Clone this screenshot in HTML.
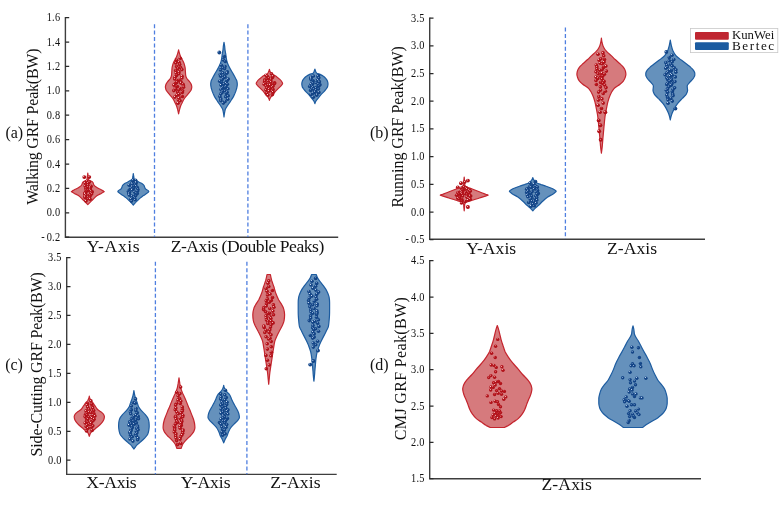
<!DOCTYPE html>
<html lang="en">
<head>
<meta charset="utf-8">
<title>GRF Peak violin plots</title>
<style>
html,body{margin:0;padding:0;background:#fff;}
body{width:784px;height:509px;overflow:hidden;}
svg{display:block;will-change:transform;}
svg text{font-family:'Liberation Serif', 'Times New Roman', Times, serif;fill:#111;}
</style>
</head>
<body>
<svg width="784" height="509" viewBox="0 0 784 509">
<defs>
<radialGradient id="gr" cx="0.4" cy="0.38" r="0.66" fx="0.36" fy="0.33">
<stop offset="0" stop-color="#ffe4e4"/><stop offset="0.1" stop-color="#eda6a9"/><stop offset="0.3" stop-color="#b8141c"/><stop offset="1" stop-color="#a80d15"/>
</radialGradient>
<radialGradient id="gb" cx="0.4" cy="0.38" r="0.66" fx="0.36" fy="0.33">
<stop offset="0" stop-color="#e6efff"/><stop offset="0.1" stop-color="#a4bce0"/><stop offset="0.3" stop-color="#15498c"/><stop offset="1" stop-color="#0f3d7e"/>
</radialGradient>
</defs>
<rect width="784" height="509" fill="#fff"/>
<path d="M65.4 17.1 V237.2 H338.2" fill="none" stroke="#3e3e3e" stroke-width="1.4"/>
<path d="M65.4 17.6h3.8M65.4 42h3.8M65.4 66.4h3.8M65.4 90.8h3.8M65.4 115.2h3.8M65.4 139.6h3.8M65.4 164h3.8M65.4 188.4h3.8M65.4 212.8h3.8M65.4 237.2h3.8" stroke="#2a2a2a" stroke-width="1.25" fill="none"/>
<text transform="translate(60.4 21.1) scale(.9 1)" text-anchor="end" font-size="11.5" letter-spacing="0.3">1.6</text>
<text transform="translate(60.4 45.5) scale(.9 1)" text-anchor="end" font-size="11.5" letter-spacing="0.3">1.4</text>
<text transform="translate(60.4 69.9) scale(.9 1)" text-anchor="end" font-size="11.5" letter-spacing="0.3">1.2</text>
<text transform="translate(60.4 94.3) scale(.9 1)" text-anchor="end" font-size="11.5" letter-spacing="0.3">1.0</text>
<text transform="translate(60.4 118.7) scale(.9 1)" text-anchor="end" font-size="11.5" letter-spacing="0.3">0.8</text>
<text transform="translate(60.4 143.1) scale(.9 1)" text-anchor="end" font-size="11.5" letter-spacing="0.3">0.6</text>
<text transform="translate(60.4 167.5) scale(.9 1)" text-anchor="end" font-size="11.5" letter-spacing="0.3">0.4</text>
<text transform="translate(60.4 191.9) scale(.9 1)" text-anchor="end" font-size="11.5" letter-spacing="0.3">0.2</text>
<text transform="translate(60.4 216.3) scale(.9 1)" text-anchor="end" font-size="11.5" letter-spacing="0.3">0.0</text>
<text transform="translate(60.4 240.7) scale(.9 1)" text-anchor="end" font-size="11.5" letter-spacing="0.3">-<tspan dx="1.9">0.2</tspan></text>
<text transform="translate(37.7 126.6) rotate(-90)" text-anchor="middle" font-size="16" textLength="156.4" lengthAdjust="spacing">Walking GRF Peak(BW)</text>
<text x="5.4" y="138.3" font-size="16">(a)</text>
<path d="M154.5 24.2V237" stroke="#4f7fe0" stroke-width="1.3" stroke-dasharray="4 2.4" fill="none"/>
<path d="M247.9 24.2V237" stroke="#4f7fe0" stroke-width="1.3" stroke-dasharray="4 2.4" fill="none"/>
<text x="113.2" y="252" text-anchor="middle" font-size="17.6" textLength="53" lengthAdjust="spacing">Y-Axis</text>
<text x="247.5" y="252" text-anchor="middle" font-size="17.6" textLength="153.6" lengthAdjust="spacing">Z-Axis (Double Peaks)</text>
<path d="M87.8 173.1C87.9 174.2 88.1 175.4 88.2 176.5C88.4 177.6 88.4 178.7 88.7 179.8C88.8 180.2 90.1 180.6 90.8 181C91.5 181.4 92.4 181.8 92.7 182.2C93.5 183.2 93.4 184.3 94.1 185.3C94.6 186.1 96 186.9 97.2 187.7C98.4 188.5 100.2 189.2 101.6 190C102.3 190.4 103.1 190.8 103.7 191.2C103.9 191.3 104.3 191.5 104.3 191.6C104.3 191.7 103.9 191.9 103.7 192C103.1 192.4 102.3 192.8 101.6 193.2C100.2 194 98.3 194.8 97.2 195.6C96.1 196.4 95.3 197.1 94.5 197.9C93.6 198.7 92.9 199.5 92.1 200.3C91.3 201.1 90.6 201.8 89.8 202.6C89.1 203.3 88.5 203.9 87.8 204.6C87.1 203.9 86.5 203.3 85.8 202.6C85 201.8 84.3 201.1 83.5 200.3C82.7 199.5 82 198.7 81.1 197.9C80.3 197.1 79.5 196.4 78.4 195.6C77.3 194.8 75.4 194 74 193.2C73.3 192.8 72.5 192.4 71.9 192C71.7 191.9 71.3 191.7 71.3 191.6C71.3 191.5 71.7 191.3 71.9 191.2C72.5 190.8 73.3 190.4 74 190C75.4 189.2 77.2 188.5 78.4 187.7C79.6 186.9 81 186.1 81.5 185.3C82.2 184.3 82.1 183.2 82.9 182.2C83.2 181.8 84.1 181.4 84.8 181C85.5 180.6 86.8 180.2 86.9 179.8C87.2 178.7 87.2 177.6 87.3 176.5C87.5 175.4 87.7 174.2 87.8 173.1Z" fill="#d67a7d" stroke="#c4252e" stroke-width="1.2" stroke-linejoin="round"/>
<circle cx="89.4" cy="177.1" r="1.8" fill="url(#gr)"/>
<circle cx="86.9" cy="181.4" r="1.8" fill="url(#gr)"/>
<circle cx="89.4" cy="182.1" r="1.8" fill="url(#gr)"/>
<circle cx="85.2" cy="183.1" r="1.8" fill="url(#gr)"/>
<circle cx="88" cy="183.4" r="1.8" fill="url(#gr)"/>
<circle cx="86.2" cy="184.7" r="1.8" fill="url(#gr)"/>
<circle cx="87.8" cy="185.4" r="1.8" fill="url(#gr)"/>
<circle cx="85.2" cy="185.9" r="1.8" fill="url(#gr)"/>
<circle cx="91.1" cy="186.4" r="1.8" fill="url(#gr)"/>
<circle cx="87.6" cy="187.3" r="1.8" fill="url(#gr)"/>
<circle cx="90.1" cy="187.4" r="1.8" fill="url(#gr)"/>
<circle cx="85.9" cy="188.4" r="1.8" fill="url(#gr)"/>
<circle cx="89.9" cy="188.5" r="1.8" fill="url(#gr)"/>
<circle cx="86.5" cy="188.8" r="1.8" fill="url(#gr)"/>
<circle cx="90.3" cy="189.4" r="1.8" fill="url(#gr)"/>
<circle cx="86.4" cy="189.7" r="1.8" fill="url(#gr)"/>
<circle cx="90.3" cy="190.1" r="1.8" fill="url(#gr)"/>
<circle cx="87.6" cy="190.5" r="1.8" fill="url(#gr)"/>
<circle cx="90.8" cy="191.1" r="1.8" fill="url(#gr)"/>
<circle cx="86.5" cy="191.3" r="1.8" fill="url(#gr)"/>
<circle cx="92.2" cy="191.8" r="1.8" fill="url(#gr)"/>
<circle cx="85.7" cy="191.8" r="1.8" fill="url(#gr)"/>
<circle cx="91.5" cy="192.4" r="1.8" fill="url(#gr)"/>
<circle cx="85.4" cy="192.8" r="1.8" fill="url(#gr)"/>
<circle cx="91.1" cy="193.1" r="1.8" fill="url(#gr)"/>
<circle cx="84.8" cy="193.3" r="1.8" fill="url(#gr)"/>
<circle cx="91.6" cy="193.9" r="1.8" fill="url(#gr)"/>
<circle cx="85" cy="194.2" r="1.8" fill="url(#gr)"/>
<circle cx="89.2" cy="194.4" r="1.8" fill="url(#gr)"/>
<circle cx="85.8" cy="195.3" r="1.8" fill="url(#gr)"/>
<circle cx="90.2" cy="195.5" r="1.8" fill="url(#gr)"/>
<circle cx="85.1" cy="196.3" r="1.8" fill="url(#gr)"/>
<circle cx="89.7" cy="196.7" r="1.8" fill="url(#gr)"/>
<circle cx="85" cy="197.4" r="1.8" fill="url(#gr)"/>
<circle cx="89.4" cy="198" r="1.8" fill="url(#gr)"/>
<circle cx="87.6" cy="198.7" r="1.8" fill="url(#gr)"/>
<circle cx="90.1" cy="199.2" r="1.8" fill="url(#gr)"/>
<circle cx="86" cy="201" r="1.8" fill="url(#gr)"/>
<path d="M133.3 173.5C133.4 174.5 133.6 175.5 133.8 176.5C133.9 177.3 133.9 178.2 134.2 179C134.4 179.5 135.5 180.1 136.3 180.6C137.1 181.1 138.2 181.7 139.2 182.2C140.2 182.7 141.5 183.2 142.2 183.7C142.9 184.2 143.6 184.8 143.9 185.3C144.3 186 144.4 186.6 144.7 187.3C144.9 187.8 145.1 188.4 145.5 188.9C145.9 189.4 147.3 189.9 147.9 190.4C148.2 190.7 148.5 191 148.7 191.3C148.8 191.4 148.9 191.5 148.9 191.6C148.9 191.7 148.6 191.9 148.5 192C148.1 192.4 147.4 192.8 146.9 193.2C145.8 194 144.6 194.8 143.5 195.6C142.4 196.4 141.3 197.1 140.4 197.9C139.4 198.7 138.6 199.5 137.8 200.3C137 201.1 136.2 201.8 135.5 202.6C134.7 203.4 134 204.2 133.3 205C132.6 204.2 131.9 203.4 131.1 202.6C130.4 201.8 129.6 201.1 128.8 200.3C128 199.5 127.2 198.7 126.2 197.9C125.3 197.1 124.2 196.4 123.1 195.6C122 194.8 120.8 194 119.7 193.2C119.2 192.8 118.5 192.4 118.1 192C118 191.9 117.7 191.7 117.7 191.6C117.7 191.5 117.8 191.4 117.9 191.3C118.1 191 118.4 190.7 118.7 190.4C119.3 189.9 120.7 189.4 121.1 188.9C121.5 188.4 121.7 187.8 121.9 187.3C122.2 186.6 122.3 186 122.7 185.3C123 184.8 123.7 184.2 124.4 183.7C125.1 183.2 126.4 182.7 127.4 182.2C128.4 181.7 129.5 181.1 130.3 180.6C131.1 180.1 132.2 179.5 132.4 179C132.7 178.2 132.7 177.3 132.9 176.5C133 175.5 133.2 174.5 133.3 173.5Z" fill="#6591bc" stroke="#1d5ca0" stroke-width="1.2" stroke-linejoin="round"/>
<circle cx="135.6" cy="180.2" r="1.8" fill="url(#gb)"/>
<circle cx="133" cy="180.4" r="1.8" fill="url(#gb)"/>
<circle cx="135.9" cy="182.3" r="1.8" fill="url(#gb)"/>
<circle cx="131.9" cy="182.9" r="1.8" fill="url(#gb)"/>
<circle cx="135.9" cy="183.5" r="1.8" fill="url(#gb)"/>
<circle cx="132.4" cy="184.1" r="1.8" fill="url(#gb)"/>
<circle cx="135.2" cy="184.6" r="1.8" fill="url(#gb)"/>
<circle cx="129.2" cy="185.3" r="1.8" fill="url(#gb)"/>
<circle cx="135.9" cy="185.9" r="1.8" fill="url(#gb)"/>
<circle cx="131.8" cy="186.1" r="1.8" fill="url(#gb)"/>
<circle cx="133.5" cy="186.4" r="1.8" fill="url(#gb)"/>
<circle cx="131.6" cy="187.2" r="1.8" fill="url(#gb)"/>
<circle cx="137.3" cy="187.6" r="1.8" fill="url(#gb)"/>
<circle cx="130.5" cy="188.2" r="1.8" fill="url(#gb)"/>
<circle cx="133.5" cy="188.5" r="1.8" fill="url(#gb)"/>
<circle cx="132.4" cy="189" r="1.8" fill="url(#gb)"/>
<circle cx="137.9" cy="189.5" r="1.8" fill="url(#gb)"/>
<circle cx="132.1" cy="190" r="1.8" fill="url(#gb)"/>
<circle cx="137.4" cy="190.5" r="1.8" fill="url(#gb)"/>
<circle cx="128.8" cy="190.9" r="1.8" fill="url(#gb)"/>
<circle cx="137.4" cy="191.3" r="1.8" fill="url(#gb)"/>
<circle cx="128.4" cy="191.5" r="1.8" fill="url(#gb)"/>
<circle cx="134.4" cy="192.1" r="1.8" fill="url(#gb)"/>
<circle cx="129.6" cy="192.5" r="1.8" fill="url(#gb)"/>
<circle cx="136.2" cy="192.7" r="1.8" fill="url(#gb)"/>
<circle cx="128.9" cy="193.2" r="1.8" fill="url(#gb)"/>
<circle cx="137.3" cy="193.6" r="1.8" fill="url(#gb)"/>
<circle cx="129.2" cy="194" r="1.8" fill="url(#gb)"/>
<circle cx="135.6" cy="194.8" r="1.8" fill="url(#gb)"/>
<circle cx="129.3" cy="195.1" r="1.8" fill="url(#gb)"/>
<circle cx="135.6" cy="195.7" r="1.8" fill="url(#gb)"/>
<circle cx="131.7" cy="196" r="1.8" fill="url(#gb)"/>
<circle cx="134.2" cy="196.9" r="1.8" fill="url(#gb)"/>
<circle cx="132.1" cy="197.7" r="1.8" fill="url(#gb)"/>
<circle cx="134.6" cy="198.4" r="1.8" fill="url(#gb)"/>
<circle cx="130.9" cy="199.3" r="1.8" fill="url(#gb)"/>
<circle cx="135.1" cy="199.8" r="1.8" fill="url(#gb)"/>
<circle cx="131.5" cy="201.1" r="1.8" fill="url(#gb)"/>
<path d="M178.6 49.9C178.8 51.1 179.2 52.2 179.5 53.4C179.8 54.5 180.1 55.5 180.6 56.6C181 57.6 181.8 58.7 182.3 59.7C183 61 183.7 62.3 184.1 63.6C184.5 64.9 184.9 66.3 185.1 67.6C185.3 68.9 185.3 70.2 185.4 71.5C185.5 72.8 185.5 74.1 185.7 75.4C185.8 76.4 186.2 77.3 186.7 78.3C187.2 79.3 188.6 80.4 189.4 81.4C190.1 82.3 190.9 83.3 191.2 84.2C191.5 85.1 191.8 86.1 191.8 87C191.8 87.9 191.5 88.9 191.2 89.8C190.9 90.8 189.8 91.9 189 92.9C188.2 94 187.2 95 186.3 96.1C185.5 97.1 184.5 98.2 183.9 99.2C183.3 100.3 182.8 101.3 182.3 102.4C181.8 103.4 181.2 104.5 180.8 105.5C180.3 106.8 179.9 108.1 179.6 109.4C179.2 110.9 178.9 112.3 178.6 113.8C178.3 112.3 178 110.9 177.6 109.4C177.3 108.1 176.9 106.8 176.4 105.5C176 104.5 175.4 103.4 174.9 102.4C174.4 101.3 173.9 100.3 173.3 99.2C172.7 98.2 171.7 97.1 170.9 96.1C170 95 169 94 168.2 92.9C167.4 91.9 166.3 90.8 166 89.8C165.7 88.9 165.4 87.9 165.4 87C165.4 86.1 165.7 85.1 166 84.2C166.3 83.3 167.1 82.3 167.8 81.4C168.6 80.4 170 79.3 170.5 78.3C171 77.3 171.4 76.4 171.5 75.4C171.7 74.1 171.7 72.8 171.8 71.5C171.9 70.2 171.9 68.9 172.1 67.6C172.3 66.3 172.7 64.9 173.1 63.6C173.5 62.3 174.2 61 174.9 59.7C175.4 58.7 176.2 57.6 176.6 56.6C177.1 55.5 177.4 54.5 177.7 53.4C178 52.2 178.4 51.1 178.6 49.9Z" fill="#d67a7d" stroke="#c4252e" stroke-width="1.2" stroke-linejoin="round"/>
<circle cx="180.3" cy="58.3" r="1.8" fill="url(#gr)"/>
<circle cx="176.6" cy="60.4" r="1.8" fill="url(#gr)"/>
<circle cx="179" cy="62.3" r="1.8" fill="url(#gr)"/>
<circle cx="175.7" cy="62.9" r="1.8" fill="url(#gr)"/>
<circle cx="179.7" cy="64.5" r="1.8" fill="url(#gr)"/>
<circle cx="176.6" cy="66.6" r="1.8" fill="url(#gr)"/>
<circle cx="180.6" cy="67.6" r="1.8" fill="url(#gr)"/>
<circle cx="177.8" cy="68.5" r="1.8" fill="url(#gr)"/>
<circle cx="181.9" cy="69.6" r="1.8" fill="url(#gr)"/>
<circle cx="175.7" cy="70.6" r="1.8" fill="url(#gr)"/>
<circle cx="179" cy="71.9" r="1.8" fill="url(#gr)"/>
<circle cx="176.2" cy="73.1" r="1.8" fill="url(#gr)"/>
<circle cx="178.8" cy="73.7" r="1.8" fill="url(#gr)"/>
<circle cx="176.5" cy="75.4" r="1.8" fill="url(#gr)"/>
<circle cx="182" cy="76.3" r="1.8" fill="url(#gr)"/>
<circle cx="175" cy="77.3" r="1.8" fill="url(#gr)"/>
<circle cx="181.9" cy="78" r="1.8" fill="url(#gr)"/>
<circle cx="174.7" cy="79" r="1.8" fill="url(#gr)"/>
<circle cx="179.3" cy="80.2" r="1.8" fill="url(#gr)"/>
<circle cx="177.3" cy="80.5" r="1.8" fill="url(#gr)"/>
<circle cx="181" cy="81.9" r="1.8" fill="url(#gr)"/>
<circle cx="176.8" cy="82.4" r="1.8" fill="url(#gr)"/>
<circle cx="180.8" cy="83" r="1.8" fill="url(#gr)"/>
<circle cx="175.4" cy="83.6" r="1.8" fill="url(#gr)"/>
<circle cx="183.1" cy="84.4" r="1.8" fill="url(#gr)"/>
<circle cx="173.9" cy="85.1" r="1.8" fill="url(#gr)"/>
<circle cx="183.5" cy="85.9" r="1.8" fill="url(#gr)"/>
<circle cx="177.4" cy="86.5" r="1.8" fill="url(#gr)"/>
<circle cx="183.5" cy="87.2" r="1.8" fill="url(#gr)"/>
<circle cx="175.4" cy="87.9" r="1.8" fill="url(#gr)"/>
<circle cx="180" cy="88.5" r="1.8" fill="url(#gr)"/>
<circle cx="175.4" cy="89.2" r="1.8" fill="url(#gr)"/>
<circle cx="179.1" cy="89.5" r="1.8" fill="url(#gr)"/>
<circle cx="173.8" cy="90.6" r="1.8" fill="url(#gr)"/>
<circle cx="182.6" cy="90.8" r="1.8" fill="url(#gr)"/>
<circle cx="177.6" cy="91.7" r="1.8" fill="url(#gr)"/>
<circle cx="182.3" cy="92.4" r="1.8" fill="url(#gr)"/>
<circle cx="178.2" cy="93.7" r="1.8" fill="url(#gr)"/>
<circle cx="179" cy="94.3" r="1.8" fill="url(#gr)"/>
<circle cx="176.9" cy="95.3" r="1.8" fill="url(#gr)"/>
<circle cx="182.4" cy="96.5" r="1.8" fill="url(#gr)"/>
<circle cx="174.9" cy="97.1" r="1.8" fill="url(#gr)"/>
<circle cx="179.1" cy="98.1" r="1.8" fill="url(#gr)"/>
<circle cx="178.4" cy="99.8" r="1.8" fill="url(#gr)"/>
<circle cx="180.1" cy="100.7" r="1.8" fill="url(#gr)"/>
<circle cx="178" cy="103.2" r="1.8" fill="url(#gr)"/>
<path d="M224 42.3C224.2 43.5 224.4 44.7 224.6 45.9C224.8 47.2 224.8 48.5 225 49.8C225.2 51.1 225.5 52.4 225.7 53.7C225.9 55 226 56.3 226.2 57.6C226.4 58.9 226.6 60.3 227 61.6C227.3 62.9 227.9 64.2 228.5 65.5C229.1 66.8 229.8 68.1 230.5 69.4C231.2 70.7 232.1 72.1 232.9 73.4C233.8 74.9 234.6 76.5 235.4 78C235.9 79 236.7 80.1 236.9 81.1C237.1 82.2 237.3 83.2 237.3 84.3C237.3 85.3 237.1 86.4 236.9 87.4C236.7 88.5 236.3 89.5 236 90.6C235.7 91.6 235.2 92.7 234.8 93.7C234.3 94.8 233.9 95.8 233.3 96.9C232.7 97.9 232 99 231.3 100C230.6 101.1 229.9 102.1 229.2 103.2C228.5 104.2 227.7 105.3 227.1 106.3C226.5 107.3 225.6 108.4 225.3 109.4C225 110.5 224.8 111.5 224.6 112.6C224.4 114 224.1 115.5 224 116.9C223.9 115.5 223.6 114 223.4 112.6C223.2 111.5 223 110.5 222.7 109.4C222.4 108.4 221.5 107.3 220.9 106.3C220.3 105.3 219.5 104.2 218.8 103.2C218.1 102.1 217.4 101.1 216.7 100C216 99 215.3 97.9 214.7 96.9C214.1 95.8 213.7 94.8 213.2 93.7C212.8 92.7 212.3 91.6 212 90.6C211.7 89.5 211.3 88.5 211.1 87.4C210.9 86.4 210.7 85.3 210.7 84.3C210.7 83.2 210.9 82.2 211.1 81.1C211.3 80.1 212.1 79 212.6 78C213.4 76.5 214.2 74.9 215.1 73.4C215.9 72.1 216.8 70.7 217.5 69.4C218.2 68.1 218.9 66.8 219.5 65.5C220.1 64.2 220.7 62.9 221 61.6C221.4 60.3 221.6 58.9 221.8 57.6C222 56.3 222.1 55 222.3 53.7C222.5 52.4 222.8 51.1 223 49.8C223.2 48.5 223.2 47.2 223.4 45.9C223.6 44.7 223.8 43.5 224 42.3Z" fill="#6591bc" stroke="#1d5ca0" stroke-width="1.2" stroke-linejoin="round"/>
<circle cx="224.4" cy="56.5" r="1.8" fill="url(#gb)"/>
<circle cx="223.4" cy="59.9" r="1.8" fill="url(#gb)"/>
<circle cx="225.3" cy="61.5" r="1.8" fill="url(#gb)"/>
<circle cx="221.4" cy="65.2" r="1.8" fill="url(#gb)"/>
<circle cx="225" cy="66.6" r="1.8" fill="url(#gb)"/>
<circle cx="222.8" cy="67.7" r="1.8" fill="url(#gb)"/>
<circle cx="224.6" cy="68.6" r="1.8" fill="url(#gb)"/>
<circle cx="220.5" cy="69.9" r="1.8" fill="url(#gb)"/>
<circle cx="227.3" cy="71.8" r="1.8" fill="url(#gb)"/>
<circle cx="222.9" cy="72.8" r="1.8" fill="url(#gb)"/>
<circle cx="226.8" cy="73.3" r="1.8" fill="url(#gb)"/>
<circle cx="220.2" cy="74.6" r="1.8" fill="url(#gb)"/>
<circle cx="224.6" cy="75.7" r="1.8" fill="url(#gb)"/>
<circle cx="220.7" cy="76.3" r="1.8" fill="url(#gb)"/>
<circle cx="225.1" cy="77.1" r="1.8" fill="url(#gb)"/>
<circle cx="223.3" cy="77.9" r="1.8" fill="url(#gb)"/>
<circle cx="228.2" cy="79" r="1.8" fill="url(#gb)"/>
<circle cx="222.2" cy="79.5" r="1.8" fill="url(#gb)"/>
<circle cx="227.1" cy="80.5" r="1.8" fill="url(#gb)"/>
<circle cx="219.7" cy="81.2" r="1.8" fill="url(#gb)"/>
<circle cx="226.4" cy="81.7" r="1.8" fill="url(#gb)"/>
<circle cx="221.5" cy="82.5" r="1.8" fill="url(#gb)"/>
<circle cx="225.9" cy="82.9" r="1.8" fill="url(#gb)"/>
<circle cx="223.6" cy="84.1" r="1.8" fill="url(#gb)"/>
<circle cx="227.4" cy="84.2" r="1.8" fill="url(#gb)"/>
<circle cx="221" cy="85.1" r="1.8" fill="url(#gb)"/>
<circle cx="226.1" cy="86" r="1.8" fill="url(#gb)"/>
<circle cx="222.7" cy="87.1" r="1.8" fill="url(#gb)"/>
<circle cx="225.4" cy="87.4" r="1.8" fill="url(#gb)"/>
<circle cx="222.3" cy="88.3" r="1.8" fill="url(#gb)"/>
<circle cx="227.9" cy="88.8" r="1.8" fill="url(#gb)"/>
<circle cx="221" cy="89.5" r="1.8" fill="url(#gb)"/>
<circle cx="224.8" cy="90.8" r="1.8" fill="url(#gb)"/>
<circle cx="222.5" cy="90.9" r="1.8" fill="url(#gb)"/>
<circle cx="227.1" cy="92.2" r="1.8" fill="url(#gb)"/>
<circle cx="222.1" cy="92.6" r="1.8" fill="url(#gb)"/>
<circle cx="226.4" cy="93.4" r="1.8" fill="url(#gb)"/>
<circle cx="220.6" cy="94.1" r="1.8" fill="url(#gb)"/>
<circle cx="228.2" cy="95.8" r="1.8" fill="url(#gb)"/>
<circle cx="219.9" cy="96.5" r="1.8" fill="url(#gb)"/>
<circle cx="225.6" cy="96.8" r="1.8" fill="url(#gb)"/>
<circle cx="220.8" cy="98.8" r="1.8" fill="url(#gb)"/>
<circle cx="227.7" cy="99.2" r="1.8" fill="url(#gb)"/>
<circle cx="220.8" cy="100.6" r="1.8" fill="url(#gb)"/>
<circle cx="225" cy="101.5" r="1.8" fill="url(#gb)"/>
<circle cx="223.3" cy="103.1" r="1.8" fill="url(#gb)"/>
<path d="M269.4 69.4C269.6 70.3 270 71.3 270.4 72.2C270.7 72.8 270.9 73.3 271.4 73.9C271.9 74.4 273.9 75 274.8 75.5C275.8 76.1 276.5 76.6 277.2 77.2C278.3 78 279.3 78.9 280.1 79.7C280.8 80.4 281.4 81 281.8 81.7C282.1 82.3 282.6 82.8 282.6 83.4C282.6 84.1 281.9 84.7 281.4 85.4C280.8 86.2 279.7 87.1 278.9 87.9C278.1 88.7 277.2 89.6 276.4 90.4C275.6 91.2 274.9 92.1 274.3 92.9C273.7 93.7 273.4 94.5 272.7 95.3C272.2 95.9 271.3 96.4 270.9 97C270.2 98.1 269.5 99.2 269.4 100.3C269.3 99.2 268.6 98.1 267.9 97C267.5 96.4 266.6 95.9 266.1 95.3C265.4 94.5 265.1 93.7 264.5 92.9C263.9 92.1 263.2 91.2 262.4 90.4C261.6 89.6 260.7 88.7 259.9 87.9C259.1 87.1 258 86.2 257.4 85.4C256.9 84.7 256.2 84.1 256.2 83.4C256.2 82.8 256.7 82.3 257 81.7C257.4 81 258 80.4 258.7 79.7C259.5 78.9 260.5 78 261.6 77.2C262.3 76.6 263 76.1 264 75.5C264.9 75 266.9 74.4 267.4 73.9C267.9 73.3 268.1 72.8 268.4 72.2C268.8 71.3 269.2 70.3 269.4 69.4Z" fill="#d67a7d" stroke="#c4252e" stroke-width="1.2" stroke-linejoin="round"/>
<circle cx="271.5" cy="73.8" r="1.8" fill="url(#gr)"/>
<circle cx="266" cy="75.3" r="1.8" fill="url(#gr)"/>
<circle cx="273" cy="76" r="1.8" fill="url(#gr)"/>
<circle cx="267.3" cy="76.2" r="1.8" fill="url(#gr)"/>
<circle cx="272.5" cy="77.5" r="1.8" fill="url(#gr)"/>
<circle cx="268.6" cy="78" r="1.8" fill="url(#gr)"/>
<circle cx="270.9" cy="78.3" r="1.8" fill="url(#gr)"/>
<circle cx="266.4" cy="78.9" r="1.8" fill="url(#gr)"/>
<circle cx="270.8" cy="79.1" r="1.8" fill="url(#gr)"/>
<circle cx="264.8" cy="79.7" r="1.8" fill="url(#gr)"/>
<circle cx="270.6" cy="80.4" r="1.8" fill="url(#gr)"/>
<circle cx="268.3" cy="80.9" r="1.8" fill="url(#gr)"/>
<circle cx="270.4" cy="81.2" r="1.8" fill="url(#gr)"/>
<circle cx="264.7" cy="81.4" r="1.8" fill="url(#gr)"/>
<circle cx="270.9" cy="81.9" r="1.8" fill="url(#gr)"/>
<circle cx="264.6" cy="82.7" r="1.8" fill="url(#gr)"/>
<circle cx="274.6" cy="82.8" r="1.8" fill="url(#gr)"/>
<circle cx="265.4" cy="83.3" r="1.8" fill="url(#gr)"/>
<circle cx="274.5" cy="83.6" r="1.8" fill="url(#gr)"/>
<circle cx="264.2" cy="84.2" r="1.8" fill="url(#gr)"/>
<circle cx="271.4" cy="84.7" r="1.8" fill="url(#gr)"/>
<circle cx="268.2" cy="84.9" r="1.8" fill="url(#gr)"/>
<circle cx="270" cy="85.2" r="1.8" fill="url(#gr)"/>
<circle cx="266" cy="85.7" r="1.8" fill="url(#gr)"/>
<circle cx="273.1" cy="86" r="1.8" fill="url(#gr)"/>
<circle cx="267.5" cy="86.7" r="1.8" fill="url(#gr)"/>
<circle cx="272" cy="87.4" r="1.8" fill="url(#gr)"/>
<circle cx="266.8" cy="87.7" r="1.8" fill="url(#gr)"/>
<circle cx="269.9" cy="88.4" r="1.8" fill="url(#gr)"/>
<circle cx="269.2" cy="89.1" r="1.8" fill="url(#gr)"/>
<circle cx="273.1" cy="89.6" r="1.8" fill="url(#gr)"/>
<circle cx="265.9" cy="89.8" r="1.8" fill="url(#gr)"/>
<circle cx="272" cy="90.7" r="1.8" fill="url(#gr)"/>
<circle cx="269.1" cy="91.1" r="1.8" fill="url(#gr)"/>
<circle cx="273" cy="92" r="1.8" fill="url(#gr)"/>
<circle cx="266.6" cy="92.9" r="1.8" fill="url(#gr)"/>
<circle cx="272.4" cy="94.6" r="1.8" fill="url(#gr)"/>
<circle cx="268" cy="95.1" r="1.8" fill="url(#gr)"/>
<path d="M314.9 69.2C315.1 70.1 315.5 70.9 315.9 71.8C316.1 72.2 316.2 72.7 316.6 73.1C317 73.5 319.2 74 320.1 74.4C321.3 75 322.3 75.5 323.1 76.1C324.1 76.8 325.1 77.6 325.7 78.3C326.4 79.1 327 80 327.3 80.8C327.7 81.8 328 82.9 328 83.9C328 84.8 327.8 85.6 327.6 86.5C327.4 87.4 326.6 88.2 326 89.1C325.4 89.9 324.7 90.8 324 91.6C323.2 92.5 322.2 93.3 321.4 94.2C320.6 95.1 319.9 95.9 319.2 96.8C318.5 97.7 317.9 98.5 317.2 99.4C316.8 100 316.2 100.5 315.9 101.1C315.4 102 315 102.8 314.9 103.7C314.8 102.8 314.4 102 313.9 101.1C313.6 100.5 313 100 312.6 99.4C311.9 98.5 311.3 97.7 310.6 96.8C309.9 95.9 309.2 95.1 308.4 94.2C307.6 93.3 306.6 92.5 305.8 91.6C305.1 90.8 304.4 89.9 303.8 89.1C303.2 88.2 302.4 87.4 302.2 86.5C302 85.6 301.8 84.8 301.8 83.9C301.8 82.9 302.1 81.8 302.5 80.8C302.8 80 303.4 79.1 304.1 78.3C304.7 77.6 305.7 76.8 306.7 76.1C307.5 75.5 308.5 75 309.7 74.4C310.6 74 312.8 73.5 313.2 73.1C313.6 72.7 313.7 72.2 313.9 71.8C314.3 70.9 314.7 70.1 314.9 69.2Z" fill="#6591bc" stroke="#1d5ca0" stroke-width="1.2" stroke-linejoin="round"/>
<circle cx="318.4" cy="75.5" r="1.8" fill="url(#gb)"/>
<circle cx="313.4" cy="76" r="1.8" fill="url(#gb)"/>
<circle cx="318.1" cy="76.4" r="1.8" fill="url(#gb)"/>
<circle cx="311.1" cy="77.3" r="1.8" fill="url(#gb)"/>
<circle cx="318.8" cy="77.8" r="1.8" fill="url(#gb)"/>
<circle cx="310.8" cy="78.3" r="1.8" fill="url(#gb)"/>
<circle cx="317.4" cy="79.1" r="1.8" fill="url(#gb)"/>
<circle cx="311.1" cy="79.5" r="1.8" fill="url(#gb)"/>
<circle cx="318.1" cy="79.9" r="1.8" fill="url(#gb)"/>
<circle cx="313.1" cy="80.7" r="1.8" fill="url(#gb)"/>
<circle cx="318.8" cy="81.2" r="1.8" fill="url(#gb)"/>
<circle cx="312.7" cy="81.7" r="1.8" fill="url(#gb)"/>
<circle cx="319.4" cy="81.8" r="1.8" fill="url(#gb)"/>
<circle cx="312.1" cy="82.6" r="1.8" fill="url(#gb)"/>
<circle cx="316.4" cy="82.8" r="1.8" fill="url(#gb)"/>
<circle cx="312.9" cy="83.5" r="1.8" fill="url(#gb)"/>
<circle cx="318.4" cy="84.1" r="1.8" fill="url(#gb)"/>
<circle cx="311.1" cy="84.3" r="1.8" fill="url(#gb)"/>
<circle cx="320" cy="84.8" r="1.8" fill="url(#gb)"/>
<circle cx="311.7" cy="85.6" r="1.8" fill="url(#gb)"/>
<circle cx="318.9" cy="85.9" r="1.8" fill="url(#gb)"/>
<circle cx="309.7" cy="86.5" r="1.8" fill="url(#gb)"/>
<circle cx="317.3" cy="86.6" r="1.8" fill="url(#gb)"/>
<circle cx="312.9" cy="87.4" r="1.8" fill="url(#gb)"/>
<circle cx="315.7" cy="87.9" r="1.8" fill="url(#gb)"/>
<circle cx="311.9" cy="88.5" r="1.8" fill="url(#gb)"/>
<circle cx="318.5" cy="88.7" r="1.8" fill="url(#gb)"/>
<circle cx="313.6" cy="89.3" r="1.8" fill="url(#gb)"/>
<circle cx="315.9" cy="90" r="1.8" fill="url(#gb)"/>
<circle cx="310.6" cy="90.4" r="1.8" fill="url(#gb)"/>
<circle cx="315" cy="91.3" r="1.8" fill="url(#gb)"/>
<circle cx="314.7" cy="92" r="1.8" fill="url(#gb)"/>
<circle cx="318.9" cy="92.4" r="1.8" fill="url(#gb)"/>
<circle cx="313.3" cy="93.3" r="1.8" fill="url(#gb)"/>
<circle cx="316.8" cy="93.9" r="1.8" fill="url(#gb)"/>
<circle cx="311" cy="94.5" r="1.8" fill="url(#gb)"/>
<circle cx="316.7" cy="95.3" r="1.8" fill="url(#gb)"/>
<circle cx="313.3" cy="97.2" r="1.8" fill="url(#gb)"/>
<circle cx="84.3" cy="177.1" r="1.95" fill="url(#gr)"/>
<circle cx="467.9" cy="180.6" r="1.95" fill="url(#gr)"/>
<circle cx="461" cy="183.2" r="1.95" fill="url(#gr)"/>
<circle cx="457.8" cy="187.4" r="1.95" fill="url(#gr)"/>
<circle cx="467.9" cy="207" r="1.95" fill="url(#gr)"/>
<circle cx="219.3" cy="52.5" r="1.9" fill="url(#gb)"/>
<path d="M429.7 17.6 V239.2 H705" fill="none" stroke="#3e3e3e" stroke-width="1.4"/>
<path d="M429.7 18.1h3.8M429.7 45.8h3.8M429.7 73.5h3.8M429.7 101.2h3.8M429.7 128.9h3.8M429.7 156.6h3.8M429.7 184.3h3.8M429.7 212h3.8M429.7 239.7h3.8" stroke="#2a2a2a" stroke-width="1.25" fill="none"/>
<text transform="translate(424.7 21.6) scale(.9 1)" text-anchor="end" font-size="11.5" letter-spacing="0.3">3.5</text>
<text transform="translate(424.7 49.3) scale(.9 1)" text-anchor="end" font-size="11.5" letter-spacing="0.3">3.0</text>
<text transform="translate(424.7 77) scale(.9 1)" text-anchor="end" font-size="11.5" letter-spacing="0.3">2.5</text>
<text transform="translate(424.7 104.7) scale(.9 1)" text-anchor="end" font-size="11.5" letter-spacing="0.3">2.0</text>
<text transform="translate(424.7 132.4) scale(.9 1)" text-anchor="end" font-size="11.5" letter-spacing="0.3">1.5</text>
<text transform="translate(424.7 160.1) scale(.9 1)" text-anchor="end" font-size="11.5" letter-spacing="0.3">1.0</text>
<text transform="translate(424.7 187.8) scale(.9 1)" text-anchor="end" font-size="11.5" letter-spacing="0.3">0.5</text>
<text transform="translate(424.7 215.5) scale(.9 1)" text-anchor="end" font-size="11.5" letter-spacing="0.3">0.0</text>
<text transform="translate(424.7 243.2) scale(.9 1)" text-anchor="end" font-size="11.5" letter-spacing="0.3">-<tspan dx="1.9">0.5</tspan></text>
<text transform="translate(402.9 126.9) rotate(-90)" text-anchor="middle" font-size="16" textLength="161.4" lengthAdjust="spacing">Running GRF Peak(BW)</text>
<text x="370" y="138.3" font-size="16">(b)</text>
<path d="M565.4 27.5V239" stroke="#4f7fe0" stroke-width="1.3" stroke-dasharray="4 2.4" fill="none"/>
<text x="491.2" y="253.7" text-anchor="middle" font-size="17.6" textLength="50" lengthAdjust="spacing">Y-Axis</text>
<text x="632" y="254" text-anchor="middle" font-size="17.6" textLength="50" lengthAdjust="spacing">Z-Axis</text>
<path d="M464.2 177.1C464.3 178.4 464.5 179.7 464.6 181C464.6 182.3 464.6 183.7 464.8 185C464.9 185.6 465.5 186.1 466.2 186.7C467.1 187.5 470.2 188.2 472.2 189C474.8 190 477.4 191 479.9 192C482 192.8 483.9 193.7 486.2 194.5C486.8 194.7 488.2 195 488.2 195.2C488.2 195.4 486.9 195.7 486.2 195.9C484.1 196.6 481.7 197.3 479.5 198C477.4 198.7 475.4 199.3 473.3 200C470.9 200.8 467.2 201.5 466.2 202.3C465.5 202.9 464.9 203.4 464.8 204C464.6 205 464.6 206 464.6 207C464.4 208.3 464.3 209.5 464.2 210.8C464.1 209.5 464 208.3 463.8 207C463.8 206 463.8 205 463.6 204C463.5 203.4 462.9 202.9 462.2 202.3C461.2 201.5 457.5 200.8 455.1 200C453 199.3 451 198.7 448.9 198C446.7 197.3 444.3 196.6 442.2 195.9C441.5 195.7 440.2 195.4 440.2 195.2C440.2 195 441.6 194.7 442.2 194.5C444.5 193.7 446.4 192.8 448.5 192C451 191 453.6 190 456.2 189C458.2 188.2 461.3 187.5 462.2 186.7C462.9 186.1 463.5 185.6 463.6 185C463.8 183.7 463.8 182.3 463.8 181C463.9 179.7 464.1 178.4 464.2 177.1Z" fill="#d67a7d" stroke="#c4252e" stroke-width="1.2" stroke-linejoin="round"/>
<circle cx="464.8" cy="182.1" r="1.8" fill="url(#gr)"/>
<circle cx="463.7" cy="186.9" r="1.8" fill="url(#gr)"/>
<circle cx="466.2" cy="187.9" r="1.8" fill="url(#gr)"/>
<circle cx="461.4" cy="188.3" r="1.8" fill="url(#gr)"/>
<circle cx="466.9" cy="188.9" r="1.8" fill="url(#gr)"/>
<circle cx="463.4" cy="189.5" r="1.8" fill="url(#gr)"/>
<circle cx="469.3" cy="190.1" r="1.8" fill="url(#gr)"/>
<circle cx="462.4" cy="190.4" r="1.8" fill="url(#gr)"/>
<circle cx="470.4" cy="191" r="1.8" fill="url(#gr)"/>
<circle cx="461" cy="191.3" r="1.8" fill="url(#gr)"/>
<circle cx="464.8" cy="191.8" r="1.8" fill="url(#gr)"/>
<circle cx="461.6" cy="192.1" r="1.8" fill="url(#gr)"/>
<circle cx="465.5" cy="192.2" r="1.8" fill="url(#gr)"/>
<circle cx="458" cy="192.6" r="1.8" fill="url(#gr)"/>
<circle cx="469" cy="192.8" r="1.8" fill="url(#gr)"/>
<circle cx="460.8" cy="193.3" r="1.8" fill="url(#gr)"/>
<circle cx="465" cy="193.5" r="1.8" fill="url(#gr)"/>
<circle cx="462" cy="193.7" r="1.8" fill="url(#gr)"/>
<circle cx="468.2" cy="194.1" r="1.8" fill="url(#gr)"/>
<circle cx="459" cy="194.3" r="1.8" fill="url(#gr)"/>
<circle cx="467.3" cy="194.5" r="1.8" fill="url(#gr)"/>
<circle cx="457.9" cy="194.9" r="1.8" fill="url(#gr)"/>
<circle cx="469.6" cy="195" r="1.8" fill="url(#gr)"/>
<circle cx="456.6" cy="195.3" r="1.8" fill="url(#gr)"/>
<circle cx="467.3" cy="195.6" r="1.8" fill="url(#gr)"/>
<circle cx="462.7" cy="195.9" r="1.8" fill="url(#gr)"/>
<circle cx="470.7" cy="196" r="1.8" fill="url(#gr)"/>
<circle cx="459.7" cy="196.2" r="1.8" fill="url(#gr)"/>
<circle cx="469.9" cy="196.4" r="1.8" fill="url(#gr)"/>
<circle cx="459.4" cy="196.9" r="1.8" fill="url(#gr)"/>
<circle cx="467.1" cy="197.3" r="1.8" fill="url(#gr)"/>
<circle cx="459.5" cy="197.5" r="1.8" fill="url(#gr)"/>
<circle cx="467.9" cy="197.8" r="1.8" fill="url(#gr)"/>
<circle cx="457.8" cy="198.2" r="1.8" fill="url(#gr)"/>
<circle cx="469" cy="198.5" r="1.8" fill="url(#gr)"/>
<circle cx="459.3" cy="198.7" r="1.8" fill="url(#gr)"/>
<circle cx="470.2" cy="199.3" r="1.8" fill="url(#gr)"/>
<circle cx="462.1" cy="199.9" r="1.8" fill="url(#gr)"/>
<circle cx="468.1" cy="200.2" r="1.8" fill="url(#gr)"/>
<circle cx="461.5" cy="200.6" r="1.8" fill="url(#gr)"/>
<circle cx="465" cy="201.5" r="1.8" fill="url(#gr)"/>
<circle cx="461.5" cy="203" r="1.8" fill="url(#gr)"/>
<path d="M532.8 177.6C532.9 178.5 533.5 179.5 534.1 180.4C534.7 181.2 535.6 182.1 536.9 182.9C537.8 183.5 539.5 184 541.1 184.6C542.6 185.1 544.6 185.7 546.1 186.2C548.5 187 551.1 187.9 552.7 188.7C553.8 189.3 554.7 189.8 555.4 190.4C555.7 190.7 556.2 190.9 556.2 191.2C556.2 191.5 555.7 191.9 555.4 192.2C554.9 192.7 554.2 193.2 553.5 193.7C551.9 194.8 549.3 195.9 547.7 197C545.7 198.4 544.2 199.8 542.7 201.2C541.2 202.6 540.1 203.9 538.6 205.3C537.4 206.4 535.9 207.5 534.8 208.6C534.1 209.3 533.4 210.1 532.8 210.8C532.2 210.1 531.5 209.3 530.8 208.6C529.7 207.5 528.2 206.4 527 205.3C525.5 203.9 524.4 202.6 522.9 201.2C521.4 199.8 519.9 198.4 517.9 197C516.3 195.9 513.7 194.8 512.1 193.7C511.4 193.2 510.7 192.7 510.2 192.2C509.9 191.9 509.4 191.5 509.4 191.2C509.4 190.9 509.9 190.7 510.2 190.4C510.9 189.8 511.8 189.3 512.9 188.7C514.5 187.9 517.1 187 519.5 186.2C521 185.7 523 185.1 524.5 184.6C526.1 184 527.8 183.5 528.7 182.9C530 182.1 530.9 181.2 531.5 180.4C532.1 179.5 532.7 178.5 532.8 177.6Z" fill="#6591bc" stroke="#1d5ca0" stroke-width="1.2" stroke-linejoin="round"/>
<circle cx="535.5" cy="181.5" r="1.8" fill="url(#gb)"/>
<circle cx="530.2" cy="183.1" r="1.8" fill="url(#gb)"/>
<circle cx="534.1" cy="184.2" r="1.8" fill="url(#gb)"/>
<circle cx="531.4" cy="185.7" r="1.8" fill="url(#gb)"/>
<circle cx="535.5" cy="186.1" r="1.8" fill="url(#gb)"/>
<circle cx="529.8" cy="186.6" r="1.8" fill="url(#gb)"/>
<circle cx="537.4" cy="187" r="1.8" fill="url(#gb)"/>
<circle cx="531.1" cy="187.4" r="1.8" fill="url(#gb)"/>
<circle cx="534.8" cy="187.9" r="1.8" fill="url(#gb)"/>
<circle cx="527.3" cy="188.5" r="1.8" fill="url(#gb)"/>
<circle cx="533.9" cy="188.9" r="1.8" fill="url(#gb)"/>
<circle cx="526.7" cy="189.3" r="1.8" fill="url(#gb)"/>
<circle cx="537.1" cy="189.6" r="1.8" fill="url(#gb)"/>
<circle cx="528.2" cy="190.1" r="1.8" fill="url(#gb)"/>
<circle cx="537.6" cy="190.5" r="1.8" fill="url(#gb)"/>
<circle cx="528.2" cy="190.9" r="1.8" fill="url(#gb)"/>
<circle cx="537" cy="191.5" r="1.8" fill="url(#gb)"/>
<circle cx="532.1" cy="191.6" r="1.8" fill="url(#gb)"/>
<circle cx="536.4" cy="192.3" r="1.8" fill="url(#gb)"/>
<circle cx="526.7" cy="192.4" r="1.8" fill="url(#gb)"/>
<circle cx="537.7" cy="192.9" r="1.8" fill="url(#gb)"/>
<circle cx="530.5" cy="193.4" r="1.8" fill="url(#gb)"/>
<circle cx="538.3" cy="193.6" r="1.8" fill="url(#gb)"/>
<circle cx="527.9" cy="194" r="1.8" fill="url(#gb)"/>
<circle cx="537.2" cy="194.4" r="1.8" fill="url(#gb)"/>
<circle cx="527.3" cy="195.1" r="1.8" fill="url(#gb)"/>
<circle cx="536" cy="195.7" r="1.8" fill="url(#gb)"/>
<circle cx="531.6" cy="195.8" r="1.8" fill="url(#gb)"/>
<circle cx="535.9" cy="196.5" r="1.8" fill="url(#gb)"/>
<circle cx="527.9" cy="196.8" r="1.8" fill="url(#gb)"/>
<circle cx="536.7" cy="197.6" r="1.8" fill="url(#gb)"/>
<circle cx="531.2" cy="198" r="1.8" fill="url(#gb)"/>
<circle cx="534.9" cy="198.5" r="1.8" fill="url(#gb)"/>
<circle cx="530.4" cy="199.3" r="1.8" fill="url(#gb)"/>
<circle cx="536.8" cy="200" r="1.8" fill="url(#gb)"/>
<circle cx="531.7" cy="201.1" r="1.8" fill="url(#gb)"/>
<circle cx="533.8" cy="201.5" r="1.8" fill="url(#gb)"/>
<circle cx="528.7" cy="202.5" r="1.8" fill="url(#gb)"/>
<circle cx="536.1" cy="203" r="1.8" fill="url(#gb)"/>
<circle cx="532.7" cy="204" r="1.8" fill="url(#gb)"/>
<circle cx="534.3" cy="205.7" r="1.8" fill="url(#gb)"/>
<circle cx="531" cy="206.2" r="1.8" fill="url(#gb)"/>
<path d="M601.4 38.1C601.5 40 601.9 41.9 602.4 43.8C602.7 45.1 603.2 46.5 603.9 47.8C604.5 49.1 605.6 50.4 606.8 51.7C608 53 609.8 54.3 611.2 55.6C612.6 56.9 613.8 58.2 615.2 59.5C616.6 60.8 618.2 62.2 619.6 63.5C621 64.8 622.6 66.1 623.5 67.4C624.4 68.7 625.2 70 625.5 71.3C625.7 72.3 625.9 73.3 625.9 74.3C625.9 75.3 625.6 76.2 625.3 77.2C624.9 78.5 624.2 79.9 623.3 81.2C622.6 82.1 621.4 83.1 620.3 84C618.5 85.6 615.3 87.1 614 88.7C612.3 90.7 611.2 92.8 610.3 94.8C609.2 97.2 608.4 99.7 607.8 102.1C607.2 104.5 606.8 107 606.3 109.4C605.8 111.8 605.3 114.3 605 116.7C604.6 120 604.3 123.2 604 126.5C603.7 129.7 603.4 133 603.1 136.2C602.8 139.4 602.6 142.7 602.3 145.9C602.1 148.3 601.7 150.8 601.4 153.2C601.1 150.8 600.7 148.3 600.5 145.9C600.2 142.7 600 139.4 599.7 136.2C599.4 133 599.1 129.7 598.8 126.5C598.5 123.2 598.2 120 597.8 116.7C597.5 114.3 597 111.8 596.5 109.4C596 107 595.6 104.5 595 102.1C594.4 99.7 593.6 97.2 592.5 94.8C591.6 92.8 590.5 90.7 588.8 88.7C587.5 87.1 584.3 85.6 582.5 84C581.4 83.1 580.2 82.1 579.5 81.2C578.6 79.9 577.9 78.5 577.5 77.2C577.2 76.2 576.9 75.3 576.9 74.3C576.9 73.3 577.1 72.3 577.3 71.3C577.6 70 578.4 68.7 579.3 67.4C580.2 66.1 581.8 64.8 583.2 63.5C584.6 62.2 586.2 60.8 587.6 59.5C589 58.2 590.2 56.9 591.6 55.6C593 54.3 594.8 53 596 51.7C597.2 50.4 598.3 49.1 598.9 47.8C599.6 46.5 600.1 45.1 600.4 43.8C600.9 41.9 601.3 40 601.4 38.1Z" fill="#d67a7d" stroke="#c4252e" stroke-width="1.2" stroke-linejoin="round"/>
<circle cx="603" cy="52.9" r="1.8" fill="url(#gr)"/>
<circle cx="598" cy="54.3" r="1.8" fill="url(#gr)"/>
<circle cx="603.7" cy="55.8" r="1.8" fill="url(#gr)"/>
<circle cx="600.8" cy="58.7" r="1.8" fill="url(#gr)"/>
<circle cx="604.5" cy="59.5" r="1.8" fill="url(#gr)"/>
<circle cx="599.2" cy="60.2" r="1.8" fill="url(#gr)"/>
<circle cx="604.1" cy="62.1" r="1.8" fill="url(#gr)"/>
<circle cx="600.2" cy="63.2" r="1.8" fill="url(#gr)"/>
<circle cx="602.3" cy="63.8" r="1.8" fill="url(#gr)"/>
<circle cx="596.3" cy="65" r="1.8" fill="url(#gr)"/>
<circle cx="605.9" cy="66.1" r="1.8" fill="url(#gr)"/>
<circle cx="596.9" cy="66.8" r="1.8" fill="url(#gr)"/>
<circle cx="603.5" cy="67.5" r="1.8" fill="url(#gr)"/>
<circle cx="596.9" cy="68.8" r="1.8" fill="url(#gr)"/>
<circle cx="602.2" cy="69.5" r="1.8" fill="url(#gr)"/>
<circle cx="599.7" cy="70.2" r="1.8" fill="url(#gr)"/>
<circle cx="606.4" cy="71.1" r="1.8" fill="url(#gr)"/>
<circle cx="596" cy="71.8" r="1.8" fill="url(#gr)"/>
<circle cx="602" cy="73.2" r="1.8" fill="url(#gr)"/>
<circle cx="598" cy="73.6" r="1.8" fill="url(#gr)"/>
<circle cx="604.4" cy="74.2" r="1.8" fill="url(#gr)"/>
<circle cx="600.4" cy="75.7" r="1.8" fill="url(#gr)"/>
<circle cx="602.5" cy="76.3" r="1.8" fill="url(#gr)"/>
<circle cx="596" cy="77.1" r="1.8" fill="url(#gr)"/>
<circle cx="601.5" cy="77.7" r="1.8" fill="url(#gr)"/>
<circle cx="597.8" cy="78.4" r="1.8" fill="url(#gr)"/>
<circle cx="602.2" cy="79.2" r="1.8" fill="url(#gr)"/>
<circle cx="596" cy="80.5" r="1.8" fill="url(#gr)"/>
<circle cx="604.1" cy="81.4" r="1.8" fill="url(#gr)"/>
<circle cx="600.6" cy="82.5" r="1.8" fill="url(#gr)"/>
<circle cx="602.7" cy="83.4" r="1.8" fill="url(#gr)"/>
<circle cx="596.4" cy="84.5" r="1.8" fill="url(#gr)"/>
<circle cx="604.6" cy="85" r="1.8" fill="url(#gr)"/>
<circle cx="600.4" cy="86.8" r="1.8" fill="url(#gr)"/>
<circle cx="606" cy="87.6" r="1.8" fill="url(#gr)"/>
<circle cx="600.6" cy="90.1" r="1.8" fill="url(#gr)"/>
<circle cx="605.4" cy="91.2" r="1.8" fill="url(#gr)"/>
<circle cx="598.6" cy="92.1" r="1.8" fill="url(#gr)"/>
<circle cx="603.2" cy="93.5" r="1.8" fill="url(#gr)"/>
<circle cx="598.9" cy="96.6" r="1.8" fill="url(#gr)"/>
<circle cx="601.9" cy="98.9" r="1.8" fill="url(#gr)"/>
<circle cx="598.3" cy="100.1" r="1.8" fill="url(#gr)"/>
<circle cx="603.2" cy="103.1" r="1.8" fill="url(#gr)"/>
<circle cx="598.1" cy="105.2" r="1.8" fill="url(#gr)"/>
<circle cx="601.5" cy="108.5" r="1.8" fill="url(#gr)"/>
<circle cx="600.1" cy="112.3" r="1.8" fill="url(#gr)"/>
<circle cx="598.7" cy="120.4" r="1.95" fill="url(#gr)"/>
<circle cx="600.4" cy="125.2" r="1.95" fill="url(#gr)"/>
<circle cx="599.2" cy="131.3" r="1.95" fill="url(#gr)"/>
<circle cx="600.7" cy="139.8" r="1.95" fill="url(#gr)"/>
<circle cx="605.3" cy="112.3" r="1.95" fill="url(#gr)"/>
<path d="M670.3 40.1C670.6 42 670.9 43.9 671.4 45.8C671.8 47.4 672.2 49.1 672.9 50.7C673.6 52.3 674.6 54 675.9 55.6C676.7 56.6 678.2 57.6 679.4 58.6C680.6 59.6 682 60.5 683.3 61.5C684.6 62.5 685.9 63.5 687.2 64.5C688.4 65.5 689.7 66.4 690.7 67.4C691.8 68.4 692.9 69.4 693.5 70.4C694.1 71.4 694.8 72.3 694.8 73.3C694.8 74 694.8 74.6 694.8 75.3C694.8 76.3 694 77.2 693.4 78.2C692.6 79.5 690.9 80.9 689.9 82.2C688.9 83.5 687.2 84.7 687.2 86C687.2 87.5 687.6 89 687.6 90.5C687.6 91.6 687 92.8 686.4 93.9C685.7 95.4 683.7 96.8 682.4 98.3C680.8 100 679 101.7 677.7 103.4C676.4 105.1 675.2 106.9 674.3 108.6C673.4 110.3 672.5 112.1 671.9 113.8C671.2 115.8 670.6 117.9 670.3 119.9C670 117.9 669.4 115.8 668.7 113.8C668.1 112.1 667.2 110.3 666.3 108.6C665.4 106.9 664.2 105.1 662.9 103.4C661.6 101.7 659.8 100 658.2 98.3C656.9 96.8 654.9 95.4 654.2 93.9C653.6 92.8 653 91.6 653 90.5C653 89 653.4 87.5 653.4 86C653.4 84.7 651.7 83.5 650.7 82.2C649.7 80.9 648 79.5 647.2 78.2C646.6 77.2 645.8 76.3 645.8 75.3C645.8 74.6 645.8 74 645.8 73.3C645.8 72.3 646.5 71.4 647.1 70.4C647.7 69.4 648.8 68.4 649.9 67.4C650.9 66.4 652.2 65.5 653.4 64.5C654.7 63.5 656 62.5 657.3 61.5C658.6 60.5 660 59.6 661.2 58.6C662.4 57.6 663.9 56.6 664.7 55.6C666 54 667 52.3 667.7 50.7C668.4 49.1 668.8 47.4 669.2 45.8C669.7 43.9 670 42 670.3 40.1Z" fill="#6591bc" stroke="#1d5ca0" stroke-width="1.2" stroke-linejoin="round"/>
<circle cx="672" cy="55.3" r="1.8" fill="url(#gb)"/>
<circle cx="669.3" cy="57.5" r="1.8" fill="url(#gb)"/>
<circle cx="673.8" cy="59.5" r="1.8" fill="url(#gb)"/>
<circle cx="669.3" cy="60.7" r="1.8" fill="url(#gb)"/>
<circle cx="672.2" cy="61.8" r="1.8" fill="url(#gb)"/>
<circle cx="665.8" cy="62.6" r="1.8" fill="url(#gb)"/>
<circle cx="670.7" cy="64.5" r="1.8" fill="url(#gb)"/>
<circle cx="666.8" cy="65.3" r="1.8" fill="url(#gb)"/>
<circle cx="672.2" cy="65.8" r="1.8" fill="url(#gb)"/>
<circle cx="667.4" cy="67" r="1.8" fill="url(#gb)"/>
<circle cx="674.3" cy="67.9" r="1.8" fill="url(#gb)"/>
<circle cx="665.8" cy="68.2" r="1.8" fill="url(#gb)"/>
<circle cx="675.9" cy="69.7" r="1.8" fill="url(#gb)"/>
<circle cx="669.8" cy="70.2" r="1.8" fill="url(#gb)"/>
<circle cx="671.5" cy="70.5" r="1.8" fill="url(#gb)"/>
<circle cx="668" cy="72" r="1.8" fill="url(#gb)"/>
<circle cx="675.8" cy="72.3" r="1.8" fill="url(#gb)"/>
<circle cx="666.6" cy="73" r="1.8" fill="url(#gb)"/>
<circle cx="671" cy="73.9" r="1.8" fill="url(#gb)"/>
<circle cx="665.1" cy="74.7" r="1.8" fill="url(#gb)"/>
<circle cx="672.1" cy="75.2" r="1.8" fill="url(#gb)"/>
<circle cx="669.9" cy="76.1" r="1.8" fill="url(#gb)"/>
<circle cx="675.3" cy="76.9" r="1.8" fill="url(#gb)"/>
<circle cx="666.8" cy="77.8" r="1.8" fill="url(#gb)"/>
<circle cx="671.6" cy="78.8" r="1.8" fill="url(#gb)"/>
<circle cx="667.7" cy="79.4" r="1.8" fill="url(#gb)"/>
<circle cx="671.3" cy="80.2" r="1.8" fill="url(#gb)"/>
<circle cx="669.5" cy="81.2" r="1.8" fill="url(#gb)"/>
<circle cx="674.9" cy="81.6" r="1.8" fill="url(#gb)"/>
<circle cx="667.6" cy="83.2" r="1.8" fill="url(#gb)"/>
<circle cx="672" cy="83.6" r="1.8" fill="url(#gb)"/>
<circle cx="666.8" cy="84.4" r="1.8" fill="url(#gb)"/>
<circle cx="671.2" cy="85.3" r="1.8" fill="url(#gb)"/>
<circle cx="669.1" cy="86.6" r="1.8" fill="url(#gb)"/>
<circle cx="674.6" cy="87.8" r="1.8" fill="url(#gb)"/>
<circle cx="667.5" cy="88.9" r="1.8" fill="url(#gb)"/>
<circle cx="672.9" cy="89.5" r="1.8" fill="url(#gb)"/>
<circle cx="666.4" cy="90.2" r="1.8" fill="url(#gb)"/>
<circle cx="672.3" cy="91.5" r="1.8" fill="url(#gb)"/>
<circle cx="667.6" cy="92.2" r="1.8" fill="url(#gb)"/>
<circle cx="672.6" cy="93.8" r="1.8" fill="url(#gb)"/>
<circle cx="666.8" cy="95.1" r="1.8" fill="url(#gb)"/>
<circle cx="673.1" cy="95.6" r="1.8" fill="url(#gb)"/>
<circle cx="667.6" cy="97.5" r="1.8" fill="url(#gb)"/>
<circle cx="670.8" cy="98.4" r="1.8" fill="url(#gb)"/>
<circle cx="668.1" cy="99.7" r="1.8" fill="url(#gb)"/>
<circle cx="672.3" cy="101.1" r="1.8" fill="url(#gb)"/>
<circle cx="668.1" cy="103.2" r="1.8" fill="url(#gb)"/>
<circle cx="666.3" cy="51.9" r="1.95" fill="url(#gb)"/>
<circle cx="675.4" cy="108.6" r="1.95" fill="url(#gb)"/>
<path d="M66.7 257 V474.4 H336.7" fill="none" stroke="#3e3e3e" stroke-width="1.4"/>
<path d="M66.7 257.5h3.8M66.7 286.5h3.8M66.7 315.4h3.8M66.7 344.4h3.8M66.7 373.3h3.8M66.7 402.3h3.8M66.7 431.3h3.8M66.7 460.2h3.8" stroke="#2a2a2a" stroke-width="1.25" fill="none"/>
<text transform="translate(61.7 261) scale(.9 1)" text-anchor="end" font-size="11.5" letter-spacing="0.3">3.5</text>
<text transform="translate(61.7 290) scale(.9 1)" text-anchor="end" font-size="11.5" letter-spacing="0.3">3.0</text>
<text transform="translate(61.7 318.9) scale(.9 1)" text-anchor="end" font-size="11.5" letter-spacing="0.3">2.5</text>
<text transform="translate(61.7 347.9) scale(.9 1)" text-anchor="end" font-size="11.5" letter-spacing="0.3">2.0</text>
<text transform="translate(61.7 376.8) scale(.9 1)" text-anchor="end" font-size="11.5" letter-spacing="0.3">1.5</text>
<text transform="translate(61.7 405.8) scale(.9 1)" text-anchor="end" font-size="11.5" letter-spacing="0.3">1.0</text>
<text transform="translate(61.7 434.8) scale(.9 1)" text-anchor="end" font-size="11.5" letter-spacing="0.3">0.5</text>
<text transform="translate(61.7 463.7) scale(.9 1)" text-anchor="end" font-size="11.5" letter-spacing="0.3">0.0</text>
<text transform="translate(42.4 364.3) rotate(-90)" text-anchor="middle" font-size="16" textLength="184.2" lengthAdjust="spacing">Side-Cutting GRF Peak(BW)</text>
<text x="5.2" y="370" font-size="16">(c)</text>
<path d="M155.4 261.8V474.2" stroke="#4f7fe0" stroke-width="1.3" stroke-dasharray="4 2.4" fill="none"/>
<path d="M246.9 261.8V474.2" stroke="#4f7fe0" stroke-width="1.3" stroke-dasharray="4 2.4" fill="none"/>
<text x="111.4" y="488.1" text-anchor="middle" font-size="17.6" textLength="50.4" lengthAdjust="spacing">X-Axis</text>
<text x="205.7" y="488.4" text-anchor="middle" font-size="17.6" textLength="49.8" lengthAdjust="spacing">Y-Axis</text>
<text x="295.4" y="488.4" text-anchor="middle" font-size="17.6" textLength="50.4" lengthAdjust="spacing">Z-Axis</text>
<path d="M89.3 396.2C89.4 397 89.6 397.7 89.9 398.5C90.1 399.2 90.4 399.8 90.8 400.5C91.2 401.1 92.1 401.8 92.6 402.4C93.6 403.7 94.3 404.9 95.2 406.2C95.8 407.1 96.3 408.1 97.1 409C97.9 409.9 99.8 410.9 100.9 411.8C101.9 412.6 103 413.4 103.5 414.2C103.9 415 104.4 415.7 104.4 416.5C104.4 417.5 104.2 418.4 103.9 419.4C103.7 420.3 103 421.3 102.3 422.2C101.6 423.1 100.7 424.1 99.7 425C98.7 425.9 97.5 426.9 96.4 427.8C95.3 428.8 94.2 429.7 93.1 430.7C92.4 431.3 91.2 432 90.8 432.6C90.4 433.2 90.1 433.9 89.9 434.5C89.7 435.1 89.5 435.7 89.3 436.3C89.1 435.7 88.9 435.1 88.7 434.5C88.5 433.9 88.2 433.2 87.8 432.6C87.4 432 86.2 431.3 85.5 430.7C84.4 429.7 83.3 428.8 82.2 427.8C81.1 426.9 79.9 425.9 78.9 425C77.9 424.1 77 423.1 76.3 422.2C75.6 421.3 74.9 420.3 74.7 419.4C74.4 418.4 74.2 417.5 74.2 416.5C74.2 415.7 74.7 415 75.1 414.2C75.6 413.4 76.7 412.6 77.7 411.8C78.8 410.9 80.7 409.9 81.5 409C82.3 408.1 82.8 407.1 83.4 406.2C84.3 404.9 85 403.7 86 402.4C86.5 401.8 87.4 401.1 87.8 400.5C88.2 399.8 88.5 399.2 88.7 398.5C89 397.7 89.2 397 89.3 396.2Z" fill="#d67a7d" stroke="#c4252e" stroke-width="1.2" stroke-linejoin="round"/>
<circle cx="90.9" cy="400.9" r="1.8" fill="url(#gr)"/>
<circle cx="87.5" cy="403.5" r="1.8" fill="url(#gr)"/>
<circle cx="91.5" cy="404.3" r="1.8" fill="url(#gr)"/>
<circle cx="87.2" cy="405.1" r="1.8" fill="url(#gr)"/>
<circle cx="92.4" cy="406.7" r="1.8" fill="url(#gr)"/>
<circle cx="87.8" cy="407.2" r="1.8" fill="url(#gr)"/>
<circle cx="92.7" cy="408.1" r="1.8" fill="url(#gr)"/>
<circle cx="89" cy="409.5" r="1.8" fill="url(#gr)"/>
<circle cx="93.7" cy="410.5" r="1.8" fill="url(#gr)"/>
<circle cx="86.1" cy="410.9" r="1.8" fill="url(#gr)"/>
<circle cx="89.5" cy="411.3" r="1.8" fill="url(#gr)"/>
<circle cx="88.8" cy="412.1" r="1.8" fill="url(#gr)"/>
<circle cx="90.9" cy="412.5" r="1.8" fill="url(#gr)"/>
<circle cx="86.5" cy="413" r="1.8" fill="url(#gr)"/>
<circle cx="94" cy="413.8" r="1.8" fill="url(#gr)"/>
<circle cx="85.5" cy="414.4" r="1.8" fill="url(#gr)"/>
<circle cx="93.3" cy="414.9" r="1.8" fill="url(#gr)"/>
<circle cx="87.3" cy="415.4" r="1.8" fill="url(#gr)"/>
<circle cx="94.9" cy="416.1" r="1.8" fill="url(#gr)"/>
<circle cx="85.1" cy="416.6" r="1.8" fill="url(#gr)"/>
<circle cx="91" cy="416.8" r="1.8" fill="url(#gr)"/>
<circle cx="88.6" cy="417.3" r="1.8" fill="url(#gr)"/>
<circle cx="92" cy="418" r="1.8" fill="url(#gr)"/>
<circle cx="86.7" cy="418.6" r="1.8" fill="url(#gr)"/>
<circle cx="94.1" cy="419.2" r="1.8" fill="url(#gr)"/>
<circle cx="87.7" cy="419.2" r="1.8" fill="url(#gr)"/>
<circle cx="92.3" cy="420.2" r="1.8" fill="url(#gr)"/>
<circle cx="86.7" cy="420.8" r="1.8" fill="url(#gr)"/>
<circle cx="93" cy="420.8" r="1.8" fill="url(#gr)"/>
<circle cx="87.5" cy="421.8" r="1.8" fill="url(#gr)"/>
<circle cx="91.5" cy="421.9" r="1.8" fill="url(#gr)"/>
<circle cx="85.2" cy="423" r="1.8" fill="url(#gr)"/>
<circle cx="91" cy="423.1" r="1.8" fill="url(#gr)"/>
<circle cx="88.8" cy="423.7" r="1.8" fill="url(#gr)"/>
<circle cx="90.5" cy="424.8" r="1.8" fill="url(#gr)"/>
<circle cx="86.9" cy="425.3" r="1.8" fill="url(#gr)"/>
<circle cx="92.8" cy="425.8" r="1.8" fill="url(#gr)"/>
<circle cx="86.2" cy="426.5" r="1.8" fill="url(#gr)"/>
<circle cx="91.4" cy="427.3" r="1.8" fill="url(#gr)"/>
<circle cx="88" cy="428.3" r="1.8" fill="url(#gr)"/>
<circle cx="92" cy="430.4" r="1.8" fill="url(#gr)"/>
<circle cx="86.5" cy="430.9" r="1.8" fill="url(#gr)"/>
<path d="M133.9 390.5C134.1 392 134.4 393.6 134.7 395.1C135 396.4 135.4 397.7 135.8 399C136.2 400.3 136.8 401.6 137.3 402.9C137.8 404.2 138 405.5 138.6 406.8C139.2 408.1 140.3 409.4 141.4 410.7C142.5 412 144.2 413.3 145.3 414.6C146.4 415.9 147.5 417.2 148 418.5C148.5 419.8 148.9 421.1 149 422.4C149.1 423.7 149.2 425 149.2 426.3C149.2 427.6 149 428.9 148.8 430.2C148.6 431.5 148.3 432.8 147.8 434.1C147.3 435.4 146 436.6 144.9 437.9C143.7 439.2 142.2 440.5 140.7 441.8C139.5 442.9 137.8 444 136.8 445.1C136 446 135.6 446.8 134.9 447.7C134.6 448.1 134.2 448.6 133.9 449C133.6 448.6 133.2 448.1 132.9 447.7C132.2 446.8 131.8 446 131 445.1C130 444 128.3 442.9 127.1 441.8C125.6 440.5 124.1 439.2 122.9 437.9C121.8 436.6 120.5 435.4 120 434.1C119.5 432.8 119.2 431.5 119 430.2C118.8 428.9 118.6 427.6 118.6 426.3C118.6 425 118.7 423.7 118.8 422.4C118.9 421.1 119.3 419.8 119.8 418.5C120.3 417.2 121.4 415.9 122.5 414.6C123.6 413.3 125.3 412 126.4 410.7C127.5 409.4 128.6 408.1 129.2 406.8C129.8 405.5 130 404.2 130.5 402.9C131 401.6 131.6 400.3 132 399C132.4 397.7 132.8 396.4 133.1 395.1C133.4 393.6 133.7 392 133.9 390.5Z" fill="#6591bc" stroke="#1d5ca0" stroke-width="1.2" stroke-linejoin="round"/>
<circle cx="135.5" cy="398.9" r="1.8" fill="url(#gb)"/>
<circle cx="133.3" cy="402.5" r="1.8" fill="url(#gb)"/>
<circle cx="135.2" cy="403.3" r="1.8" fill="url(#gb)"/>
<circle cx="131.4" cy="406" r="1.8" fill="url(#gb)"/>
<circle cx="136.1" cy="408.5" r="1.8" fill="url(#gb)"/>
<circle cx="131.4" cy="409.7" r="1.8" fill="url(#gb)"/>
<circle cx="135.8" cy="410.5" r="1.8" fill="url(#gb)"/>
<circle cx="130.4" cy="411.8" r="1.8" fill="url(#gb)"/>
<circle cx="137.3" cy="412.7" r="1.8" fill="url(#gb)"/>
<circle cx="130.8" cy="413.7" r="1.8" fill="url(#gb)"/>
<circle cx="136" cy="414.9" r="1.8" fill="url(#gb)"/>
<circle cx="133.7" cy="416.2" r="1.8" fill="url(#gb)"/>
<circle cx="138.2" cy="416.4" r="1.8" fill="url(#gb)"/>
<circle cx="133.2" cy="417.6" r="1.8" fill="url(#gb)"/>
<circle cx="138.5" cy="418.7" r="1.8" fill="url(#gb)"/>
<circle cx="131.5" cy="418.8" r="1.8" fill="url(#gb)"/>
<circle cx="135.8" cy="419.6" r="1.8" fill="url(#gb)"/>
<circle cx="132.7" cy="420.7" r="1.8" fill="url(#gb)"/>
<circle cx="134.4" cy="421.5" r="1.8" fill="url(#gb)"/>
<circle cx="129.7" cy="421.8" r="1.8" fill="url(#gb)"/>
<circle cx="136.4" cy="422.7" r="1.8" fill="url(#gb)"/>
<circle cx="131.1" cy="423.6" r="1.8" fill="url(#gb)"/>
<circle cx="134.2" cy="424.2" r="1.8" fill="url(#gb)"/>
<circle cx="129" cy="425.1" r="1.8" fill="url(#gb)"/>
<circle cx="137.5" cy="426" r="1.8" fill="url(#gb)"/>
<circle cx="131.7" cy="426.3" r="1.8" fill="url(#gb)"/>
<circle cx="137.5" cy="427.3" r="1.8" fill="url(#gb)"/>
<circle cx="132.3" cy="427.6" r="1.8" fill="url(#gb)"/>
<circle cx="136.8" cy="428.5" r="1.8" fill="url(#gb)"/>
<circle cx="131.1" cy="429.5" r="1.8" fill="url(#gb)"/>
<circle cx="138.1" cy="429.7" r="1.8" fill="url(#gb)"/>
<circle cx="131" cy="430.7" r="1.8" fill="url(#gb)"/>
<circle cx="136.4" cy="431.3" r="1.8" fill="url(#gb)"/>
<circle cx="129.9" cy="432.2" r="1.8" fill="url(#gb)"/>
<circle cx="136.9" cy="432.7" r="1.8" fill="url(#gb)"/>
<circle cx="130.3" cy="433.5" r="1.8" fill="url(#gb)"/>
<circle cx="135.6" cy="434.2" r="1.8" fill="url(#gb)"/>
<circle cx="130.6" cy="435.3" r="1.8" fill="url(#gb)"/>
<circle cx="136.4" cy="435.8" r="1.8" fill="url(#gb)"/>
<circle cx="132.3" cy="436.8" r="1.8" fill="url(#gb)"/>
<circle cx="138" cy="438" r="1.8" fill="url(#gb)"/>
<circle cx="130" cy="439" r="1.8" fill="url(#gb)"/>
<circle cx="137.6" cy="439.7" r="1.8" fill="url(#gb)"/>
<circle cx="132.9" cy="441.1" r="1.8" fill="url(#gb)"/>
<path d="M179 377.8C179.2 379.6 179.5 381.4 179.8 383.2C180.1 384.7 180.3 386.3 180.7 387.8C181.1 389.3 181.7 390.9 182.3 392.4C182.9 393.9 183.7 395.5 184.4 397C185.1 398.5 185.8 400.1 186.4 401.6C187 403.1 187.6 404.7 188.2 406.2C188.8 407.7 189.6 409.3 190.2 410.8C190.8 412.3 191.4 413.9 192 415.4C192.6 416.9 193.3 418.5 193.7 420C194.1 421.5 194.6 423.1 194.7 424.6C194.8 425.6 194.9 426.7 194.9 427.7C194.9 429 194.3 430.2 193.8 431.5C193.3 432.8 192 434 190.9 435.3C189.8 436.6 188.2 437.8 187 439.1C185.8 440.4 184.5 441.7 183.6 443C182.9 444 182.4 445 182 446C181.7 446.8 181.4 447.5 181.2 448.3L176.8 448.3C176.6 447.5 176.3 446.8 176 446C175.6 445 175.1 444 174.4 443C173.5 441.7 172.2 440.4 171 439.1C169.8 437.8 168.2 436.6 167.1 435.3C166 434 164.7 432.8 164.2 431.5C163.7 430.2 163.1 429 163.1 427.7C163.1 426.7 163.2 425.6 163.3 424.6C163.4 423.1 163.9 421.5 164.3 420C164.7 418.5 165.4 416.9 166 415.4C166.6 413.9 167.2 412.3 167.8 410.8C168.4 409.3 169.2 407.7 169.8 406.2C170.4 404.7 171 403.1 171.6 401.6C172.2 400.1 172.9 398.5 173.6 397C174.3 395.5 175.1 393.9 175.7 392.4C176.3 390.9 176.9 389.3 177.3 387.8C177.7 386.3 177.9 384.7 178.2 383.2C178.5 381.4 178.8 379.6 179 377.8Z" fill="#d67a7d" stroke="#c4252e" stroke-width="1.2" stroke-linejoin="round"/>
<circle cx="180.6" cy="387.1" r="1.8" fill="url(#gr)"/>
<circle cx="176.7" cy="392.3" r="1.8" fill="url(#gr)"/>
<circle cx="179.9" cy="393.6" r="1.8" fill="url(#gr)"/>
<circle cx="178.1" cy="395.7" r="1.8" fill="url(#gr)"/>
<circle cx="179.6" cy="398.6" r="1.8" fill="url(#gr)"/>
<circle cx="178" cy="399.9" r="1.8" fill="url(#gr)"/>
<circle cx="180.8" cy="401.1" r="1.8" fill="url(#gr)"/>
<circle cx="176.5" cy="403.2" r="1.8" fill="url(#gr)"/>
<circle cx="180.3" cy="403.5" r="1.8" fill="url(#gr)"/>
<circle cx="175.6" cy="404.9" r="1.8" fill="url(#gr)"/>
<circle cx="182.3" cy="407" r="1.8" fill="url(#gr)"/>
<circle cx="175.8" cy="408.1" r="1.8" fill="url(#gr)"/>
<circle cx="182.4" cy="409.4" r="1.8" fill="url(#gr)"/>
<circle cx="175.3" cy="409.7" r="1.8" fill="url(#gr)"/>
<circle cx="182.4" cy="411" r="1.8" fill="url(#gr)"/>
<circle cx="176.8" cy="412.1" r="1.8" fill="url(#gr)"/>
<circle cx="181.2" cy="412.9" r="1.8" fill="url(#gr)"/>
<circle cx="178.2" cy="413.8" r="1.8" fill="url(#gr)"/>
<circle cx="182.8" cy="415.2" r="1.8" fill="url(#gr)"/>
<circle cx="175.6" cy="416.3" r="1.8" fill="url(#gr)"/>
<circle cx="182.7" cy="416.8" r="1.8" fill="url(#gr)"/>
<circle cx="175.6" cy="417.3" r="1.8" fill="url(#gr)"/>
<circle cx="180.2" cy="418.4" r="1.8" fill="url(#gr)"/>
<circle cx="176.2" cy="419.1" r="1.8" fill="url(#gr)"/>
<circle cx="181.6" cy="420" r="1.8" fill="url(#gr)"/>
<circle cx="176.7" cy="421.1" r="1.8" fill="url(#gr)"/>
<circle cx="181.8" cy="421.5" r="1.8" fill="url(#gr)"/>
<circle cx="177.5" cy="422.4" r="1.8" fill="url(#gr)"/>
<circle cx="181.2" cy="423.2" r="1.8" fill="url(#gr)"/>
<circle cx="175.5" cy="423.9" r="1.8" fill="url(#gr)"/>
<circle cx="181.3" cy="425.4" r="1.8" fill="url(#gr)"/>
<circle cx="174.3" cy="426" r="1.8" fill="url(#gr)"/>
<circle cx="180" cy="426.3" r="1.8" fill="url(#gr)"/>
<circle cx="174.7" cy="427.6" r="1.8" fill="url(#gr)"/>
<circle cx="180.2" cy="428.3" r="1.8" fill="url(#gr)"/>
<circle cx="174.6" cy="428.9" r="1.8" fill="url(#gr)"/>
<circle cx="183.1" cy="430.1" r="1.8" fill="url(#gr)"/>
<circle cx="174.7" cy="430.4" r="1.8" fill="url(#gr)"/>
<circle cx="182.7" cy="431.3" r="1.8" fill="url(#gr)"/>
<circle cx="174.3" cy="432" r="1.8" fill="url(#gr)"/>
<circle cx="182.6" cy="433.2" r="1.8" fill="url(#gr)"/>
<circle cx="175.9" cy="433.8" r="1.8" fill="url(#gr)"/>
<circle cx="181.9" cy="435.1" r="1.8" fill="url(#gr)"/>
<circle cx="175.7" cy="435.9" r="1.8" fill="url(#gr)"/>
<circle cx="180.5" cy="436.9" r="1.8" fill="url(#gr)"/>
<circle cx="176.1" cy="437.9" r="1.8" fill="url(#gr)"/>
<circle cx="180.1" cy="439.1" r="1.8" fill="url(#gr)"/>
<circle cx="176.6" cy="440.6" r="1.8" fill="url(#gr)"/>
<circle cx="180.8" cy="443.4" r="1.8" fill="url(#gr)"/>
<circle cx="177.6" cy="444.6" r="1.8" fill="url(#gr)"/>
<path d="M223.7 385.4C223.8 386.5 224.2 387.6 224.7 388.7C225.1 389.6 225.7 390.5 226.4 391.4C227.2 392.5 228.9 393.6 229.6 394.7C230.4 396 230.8 397.4 231.4 398.7C232 400 232.6 401.4 233.3 402.7C234 404.1 234.8 405.4 235.5 406.8C236.2 408.1 237.1 409.5 237.7 410.8C238.3 412.1 238.9 413.5 239.1 414.8C239.2 415.7 239.4 416.6 239.4 417.5C239.4 418.4 238.6 419.2 238 420.1C237.1 421.4 235.2 422.8 234 424.1C232.7 425.5 231.3 426.8 230.4 428.2C229.6 429.5 229 430.9 228.4 432.2C227.8 433.5 227.5 434.9 226.9 436.2C226.5 437.1 225.7 438 225.3 438.9C224.7 440.2 224.1 441.6 223.7 442.9C223.3 441.6 222.7 440.2 222.1 438.9C221.7 438 220.9 437.1 220.5 436.2C219.9 434.9 219.6 433.5 219 432.2C218.4 430.9 217.8 429.5 217 428.2C216.1 426.8 214.7 425.5 213.4 424.1C212.2 422.8 210.3 421.4 209.4 420.1C208.8 419.2 208 418.4 208 417.5C208 416.6 208.2 415.7 208.3 414.8C208.5 413.5 209.1 412.1 209.7 410.8C210.3 409.5 211.2 408.1 211.9 406.8C212.6 405.4 213.4 404.1 214.1 402.7C214.8 401.4 215.4 400 216 398.7C216.6 397.4 217 396 217.8 394.7C218.5 393.6 220.2 392.5 221 391.4C221.7 390.5 222.3 389.6 222.7 388.7C223.2 387.6 223.6 386.5 223.7 385.4Z" fill="#6591bc" stroke="#1d5ca0" stroke-width="1.2" stroke-linejoin="round"/>
<circle cx="225.4" cy="390.2" r="1.8" fill="url(#gb)"/>
<circle cx="220.7" cy="393.8" r="1.8" fill="url(#gb)"/>
<circle cx="224.8" cy="394.8" r="1.8" fill="url(#gb)"/>
<circle cx="221.2" cy="396.9" r="1.8" fill="url(#gb)"/>
<circle cx="226.3" cy="397.6" r="1.8" fill="url(#gb)"/>
<circle cx="220.7" cy="399" r="1.8" fill="url(#gb)"/>
<circle cx="224.8" cy="399.9" r="1.8" fill="url(#gb)"/>
<circle cx="222" cy="401.8" r="1.8" fill="url(#gb)"/>
<circle cx="227" cy="402.2" r="1.8" fill="url(#gb)"/>
<circle cx="222.8" cy="403.6" r="1.8" fill="url(#gb)"/>
<circle cx="226.7" cy="404.5" r="1.8" fill="url(#gb)"/>
<circle cx="220.7" cy="405.1" r="1.8" fill="url(#gb)"/>
<circle cx="225.5" cy="406" r="1.8" fill="url(#gb)"/>
<circle cx="222.5" cy="406.8" r="1.8" fill="url(#gb)"/>
<circle cx="225.9" cy="408.4" r="1.8" fill="url(#gb)"/>
<circle cx="221.3" cy="409.3" r="1.8" fill="url(#gb)"/>
<circle cx="227.9" cy="409.8" r="1.8" fill="url(#gb)"/>
<circle cx="222.9" cy="410.6" r="1.8" fill="url(#gb)"/>
<circle cx="227" cy="411.3" r="1.8" fill="url(#gb)"/>
<circle cx="223" cy="411.7" r="1.8" fill="url(#gb)"/>
<circle cx="226.6" cy="413" r="1.8" fill="url(#gb)"/>
<circle cx="221.1" cy="413.2" r="1.8" fill="url(#gb)"/>
<circle cx="227.8" cy="414" r="1.8" fill="url(#gb)"/>
<circle cx="222.9" cy="414.9" r="1.8" fill="url(#gb)"/>
<circle cx="224.4" cy="415.8" r="1.8" fill="url(#gb)"/>
<circle cx="223.4" cy="416.1" r="1.8" fill="url(#gb)"/>
<circle cx="224.6" cy="417.2" r="1.8" fill="url(#gb)"/>
<circle cx="223" cy="417.7" r="1.8" fill="url(#gb)"/>
<circle cx="227.4" cy="418.4" r="1.8" fill="url(#gb)"/>
<circle cx="221.1" cy="419.1" r="1.8" fill="url(#gb)"/>
<circle cx="226.2" cy="419.8" r="1.8" fill="url(#gb)"/>
<circle cx="223" cy="420.7" r="1.8" fill="url(#gb)"/>
<circle cx="225.1" cy="421.4" r="1.8" fill="url(#gb)"/>
<circle cx="219.5" cy="422.6" r="1.8" fill="url(#gb)"/>
<circle cx="224.6" cy="422.7" r="1.8" fill="url(#gb)"/>
<circle cx="221.1" cy="424.3" r="1.8" fill="url(#gb)"/>
<circle cx="226.7" cy="424.6" r="1.8" fill="url(#gb)"/>
<circle cx="221.9" cy="426.8" r="1.8" fill="url(#gb)"/>
<circle cx="226" cy="427.3" r="1.8" fill="url(#gb)"/>
<circle cx="222.6" cy="429.5" r="1.8" fill="url(#gb)"/>
<circle cx="224.5" cy="430.1" r="1.8" fill="url(#gb)"/>
<circle cx="222.1" cy="432.4" r="1.8" fill="url(#gb)"/>
<circle cx="225.1" cy="433.7" r="1.8" fill="url(#gb)"/>
<circle cx="222.6" cy="435.3" r="1.8" fill="url(#gb)"/>
<path d="M270.4 274.5C270.7 276.5 271.2 278.4 271.7 280.4C272.3 282.5 273.2 284.7 273.9 286.8C274.6 289 275 291.1 275.8 293.3C276.6 295.5 277.5 297.6 278.6 299.8C279.5 301.5 281 303.3 281.9 305C282.6 306.3 283.4 307.6 283.7 308.9C284.2 310.8 284.6 312.8 284.6 314.7C284.6 316.6 284.4 318.6 284.1 320.5C283.9 322.2 282.9 324 282.2 325.7C281.4 327.5 280.2 329.4 279.3 331.2C278.4 332.9 277.5 334.7 276.7 336.4C275.9 338.1 275.1 339.9 274.7 341.6C274.2 343.7 273.9 345.9 273.6 348C273.2 350.2 272.9 352.3 272.6 354.5C272.3 356.7 271.9 358.8 271.6 361C271.3 363.2 270.9 365.3 270.6 367.5C270.3 369.7 269.9 371.8 269.7 374C269.5 375.7 269.4 377.4 269.2 379.1C269 380.8 268.9 382.6 268.7 384.3C268.5 382.6 268.4 380.8 268.2 379.1C268 377.4 267.9 375.7 267.7 374C267.5 371.8 267.1 369.7 266.8 367.5C266.5 365.3 266.1 363.2 265.8 361C265.5 358.8 265.1 356.7 264.8 354.5C264.5 352.3 264.2 350.2 263.8 348C263.5 345.9 263.2 343.7 262.7 341.6C262.3 339.9 261.5 338.1 260.7 336.4C259.9 334.7 259 332.9 258.1 331.2C257.2 329.4 256 327.5 255.2 325.7C254.5 324 253.5 322.2 253.3 320.5C253 318.6 252.8 316.6 252.8 314.7C252.8 312.8 253.2 310.8 253.7 308.9C254 307.6 254.8 306.3 255.5 305C256.4 303.3 257.9 301.5 258.8 299.8C259.9 297.6 260.8 295.5 261.6 293.3C262.4 291.1 262.8 289 263.5 286.8C264.2 284.7 265.1 282.5 265.7 280.4C266.2 278.4 266.7 276.5 267 274.5Z" fill="#d67a7d" stroke="#c4252e" stroke-width="1.2" stroke-linejoin="round"/>
<circle cx="268.8" cy="280.8" r="1.8" fill="url(#gr)"/>
<circle cx="268" cy="283.3" r="1.8" fill="url(#gr)"/>
<circle cx="268.8" cy="286.5" r="1.8" fill="url(#gr)"/>
<circle cx="266.1" cy="288.5" r="1.8" fill="url(#gr)"/>
<circle cx="272.4" cy="290.5" r="1.8" fill="url(#gr)"/>
<circle cx="267.1" cy="291.3" r="1.8" fill="url(#gr)"/>
<circle cx="270.1" cy="294" r="1.8" fill="url(#gr)"/>
<circle cx="267.5" cy="294.9" r="1.8" fill="url(#gr)"/>
<circle cx="272.5" cy="297.5" r="1.8" fill="url(#gr)"/>
<circle cx="267.4" cy="298.9" r="1.8" fill="url(#gr)"/>
<circle cx="271.3" cy="300.4" r="1.8" fill="url(#gr)"/>
<circle cx="266.3" cy="300.8" r="1.8" fill="url(#gr)"/>
<circle cx="269.3" cy="302.3" r="1.8" fill="url(#gr)"/>
<circle cx="266.5" cy="303.7" r="1.8" fill="url(#gr)"/>
<circle cx="273.4" cy="304.8" r="1.8" fill="url(#gr)"/>
<circle cx="266.2" cy="306" r="1.8" fill="url(#gr)"/>
<circle cx="273.9" cy="307.3" r="1.8" fill="url(#gr)"/>
<circle cx="263.6" cy="307.9" r="1.8" fill="url(#gr)"/>
<circle cx="269.8" cy="308.5" r="1.8" fill="url(#gr)"/>
<circle cx="263.6" cy="309.6" r="1.8" fill="url(#gr)"/>
<circle cx="272.9" cy="311.1" r="1.8" fill="url(#gr)"/>
<circle cx="265.6" cy="311.7" r="1.8" fill="url(#gr)"/>
<circle cx="269.6" cy="313.2" r="1.8" fill="url(#gr)"/>
<circle cx="268.2" cy="313.4" r="1.8" fill="url(#gr)"/>
<circle cx="273.5" cy="314.7" r="1.8" fill="url(#gr)"/>
<circle cx="266.1" cy="315.8" r="1.8" fill="url(#gr)"/>
<circle cx="270.1" cy="316.7" r="1.8" fill="url(#gr)"/>
<circle cx="266.3" cy="318.1" r="1.8" fill="url(#gr)"/>
<circle cx="270.8" cy="318.3" r="1.8" fill="url(#gr)"/>
<circle cx="266.5" cy="319.9" r="1.8" fill="url(#gr)"/>
<circle cx="271" cy="320.9" r="1.8" fill="url(#gr)"/>
<circle cx="268" cy="321.5" r="1.8" fill="url(#gr)"/>
<circle cx="273.1" cy="322.9" r="1.8" fill="url(#gr)"/>
<circle cx="267.8" cy="323.5" r="1.8" fill="url(#gr)"/>
<circle cx="271.1" cy="324.6" r="1.8" fill="url(#gr)"/>
<circle cx="263.9" cy="326.1" r="1.8" fill="url(#gr)"/>
<circle cx="270.5" cy="327.1" r="1.8" fill="url(#gr)"/>
<circle cx="264.2" cy="327.4" r="1.8" fill="url(#gr)"/>
<circle cx="269.8" cy="329.7" r="1.8" fill="url(#gr)"/>
<circle cx="266.1" cy="330.4" r="1.8" fill="url(#gr)"/>
<circle cx="269.1" cy="332.4" r="1.8" fill="url(#gr)"/>
<circle cx="264.8" cy="332.5" r="1.8" fill="url(#gr)"/>
<circle cx="271" cy="334.7" r="1.8" fill="url(#gr)"/>
<circle cx="266.1" cy="336.7" r="1.8" fill="url(#gr)"/>
<circle cx="270" cy="338.3" r="1.8" fill="url(#gr)"/>
<circle cx="268.6" cy="339" r="1.8" fill="url(#gr)"/>
<circle cx="271.2" cy="341.5" r="1.8" fill="url(#gr)"/>
<circle cx="267.2" cy="343.8" r="1.8" fill="url(#gr)"/>
<circle cx="271.3" cy="346.7" r="1.8" fill="url(#gr)"/>
<circle cx="267.4" cy="349.1" r="1.8" fill="url(#gr)"/>
<circle cx="271.4" cy="352.3" r="1.8" fill="url(#gr)"/>
<circle cx="265.9" cy="355.4" r="1.8" fill="url(#gr)"/>
<circle cx="270.9" cy="355.8" r="1.8" fill="url(#gr)"/>
<circle cx="267.4" cy="360.2" r="1.8" fill="url(#gr)"/>
<circle cx="269.3" cy="365" r="1.8" fill="url(#gr)"/>
<circle cx="266.3" cy="368.7" r="1.8" fill="url(#gr)"/>
<path d="M316.2 274.5C316.5 275.6 317 276.7 317.5 277.8C318.1 279.1 319.1 280.4 320.1 281.7C321.1 283 322.3 284.3 323.3 285.6C324.2 286.9 325.2 288.1 325.9 289.4C326.6 290.7 327.3 292 327.8 293.3C328.3 294.6 328.9 295.9 329.1 297.2C329.4 298.9 329.6 300.7 329.6 302.4C329.6 304.6 329.6 306.7 329.6 308.9C329.6 311.1 329.6 313.2 329.5 315.4C329.4 317.5 329.2 319.7 329 321.8C328.8 323.4 328.7 324.9 328.4 326.5C328.1 328.1 327 329.6 326.2 331.2C325.4 332.9 324.5 334.7 323.6 336.4C322.7 338.1 321.8 339.9 321 341.6C320.2 343.3 319.4 345 318.8 346.7C318.2 348.4 317.5 350.2 317.1 351.9C316.6 354.1 316.3 356.2 316 358.4C315.7 360.6 315.6 362.7 315.4 364.9C315.2 367.1 315 369.2 314.8 371.4C314.7 373.1 314.6 374.8 314.4 376.5C314.3 378 314.1 379.6 313.9 381.1C313.7 379.6 313.5 378 313.4 376.5C313.2 374.8 313.1 373.1 313 371.4C312.8 369.2 312.6 367.1 312.4 364.9C312.2 362.7 312.1 360.6 311.8 358.4C311.5 356.2 311.2 354.1 310.7 351.9C310.3 350.2 309.6 348.4 309 346.7C308.4 345 307.6 343.3 306.8 341.6C306 339.9 305.1 338.1 304.2 336.4C303.3 334.7 302.4 332.9 301.6 331.2C300.8 329.6 299.7 328.1 299.4 326.5C299.1 324.9 299 323.4 298.8 321.8C298.6 319.7 298.4 317.5 298.3 315.4C298.2 313.2 298.2 311.1 298.2 308.9C298.2 306.7 298.2 304.6 298.2 302.4C298.2 300.7 298.4 298.9 298.7 297.2C298.9 295.9 299.5 294.6 300 293.3C300.5 292 301.2 290.7 301.9 289.4C302.6 288.1 303.6 286.9 304.5 285.6C305.5 284.3 306.7 283 307.7 281.7C308.7 280.4 309.7 279.1 310.3 277.8C310.8 276.7 311.3 275.6 311.6 274.5Z" fill="#6591bc" stroke="#1d5ca0" stroke-width="1.2" stroke-linejoin="round"/>
<circle cx="315.6" cy="278.4" r="1.8" fill="url(#gb)"/>
<circle cx="312" cy="281.3" r="1.8" fill="url(#gb)"/>
<circle cx="316.7" cy="283.4" r="1.8" fill="url(#gb)"/>
<circle cx="311" cy="285" r="1.8" fill="url(#gb)"/>
<circle cx="315.6" cy="286.2" r="1.8" fill="url(#gb)"/>
<circle cx="312.9" cy="288.2" r="1.8" fill="url(#gb)"/>
<circle cx="315.8" cy="290.1" r="1.8" fill="url(#gb)"/>
<circle cx="309" cy="291.5" r="1.8" fill="url(#gb)"/>
<circle cx="318.6" cy="292.1" r="1.8" fill="url(#gb)"/>
<circle cx="310.1" cy="294" r="1.8" fill="url(#gb)"/>
<circle cx="316.7" cy="294.2" r="1.8" fill="url(#gb)"/>
<circle cx="311.9" cy="296.1" r="1.8" fill="url(#gb)"/>
<circle cx="316" cy="296.8" r="1.8" fill="url(#gb)"/>
<circle cx="309.4" cy="298" r="1.8" fill="url(#gb)"/>
<circle cx="316.6" cy="299.2" r="1.8" fill="url(#gb)"/>
<circle cx="308.6" cy="300.6" r="1.8" fill="url(#gb)"/>
<circle cx="314.4" cy="301.3" r="1.8" fill="url(#gb)"/>
<circle cx="309.1" cy="303.2" r="1.8" fill="url(#gb)"/>
<circle cx="317.2" cy="304.1" r="1.8" fill="url(#gb)"/>
<circle cx="312.7" cy="304.6" r="1.8" fill="url(#gb)"/>
<circle cx="316.9" cy="305.8" r="1.8" fill="url(#gb)"/>
<circle cx="309.8" cy="306.6" r="1.8" fill="url(#gb)"/>
<circle cx="314.1" cy="308.5" r="1.8" fill="url(#gb)"/>
<circle cx="310.8" cy="309.7" r="1.8" fill="url(#gb)"/>
<circle cx="316.9" cy="310.9" r="1.8" fill="url(#gb)"/>
<circle cx="311" cy="311.8" r="1.8" fill="url(#gb)"/>
<circle cx="317.1" cy="312.7" r="1.8" fill="url(#gb)"/>
<circle cx="312.7" cy="313.2" r="1.8" fill="url(#gb)"/>
<circle cx="316.6" cy="314.5" r="1.8" fill="url(#gb)"/>
<circle cx="310.6" cy="315.8" r="1.8" fill="url(#gb)"/>
<circle cx="316.5" cy="317.2" r="1.8" fill="url(#gb)"/>
<circle cx="310.7" cy="318" r="1.8" fill="url(#gb)"/>
<circle cx="318.4" cy="319.8" r="1.8" fill="url(#gb)"/>
<circle cx="309.3" cy="320.6" r="1.8" fill="url(#gb)"/>
<circle cx="314.8" cy="321.3" r="1.8" fill="url(#gb)"/>
<circle cx="312.9" cy="322.2" r="1.8" fill="url(#gb)"/>
<circle cx="317.6" cy="323.3" r="1.8" fill="url(#gb)"/>
<circle cx="313" cy="325.5" r="1.8" fill="url(#gb)"/>
<circle cx="318.9" cy="326.4" r="1.8" fill="url(#gb)"/>
<circle cx="312.7" cy="327.7" r="1.8" fill="url(#gb)"/>
<circle cx="315.6" cy="328.8" r="1.8" fill="url(#gb)"/>
<circle cx="313.8" cy="329.4" r="1.8" fill="url(#gb)"/>
<circle cx="318.5" cy="331.2" r="1.8" fill="url(#gb)"/>
<circle cx="312.9" cy="332" r="1.8" fill="url(#gb)"/>
<circle cx="314.2" cy="333.8" r="1.8" fill="url(#gb)"/>
<circle cx="310.4" cy="335.5" r="1.8" fill="url(#gb)"/>
<circle cx="314.2" cy="337.1" r="1.8" fill="url(#gb)"/>
<circle cx="312.7" cy="338.1" r="1.8" fill="url(#gb)"/>
<circle cx="317.6" cy="341.2" r="1.8" fill="url(#gb)"/>
<circle cx="313.3" cy="343" r="1.8" fill="url(#gb)"/>
<circle cx="315.7" cy="344.7" r="1.8" fill="url(#gb)"/>
<circle cx="313.3" cy="347.1" r="1.8" fill="url(#gb)"/>
<circle cx="318" cy="350.6" r="1.95" fill="url(#gb)"/>
<circle cx="313.4" cy="361" r="1.95" fill="url(#gb)"/>
<circle cx="310.2" cy="364.6" r="1.95" fill="url(#gb)"/>
<path d="M429.7 260.1 V478.7 H701" fill="none" stroke="#3e3e3e" stroke-width="1.4"/>
<path d="M429.7 260.6h3.8M429.7 297h3.8M429.7 333.3h3.8M429.7 369.7h3.8M429.7 406h3.8M429.7 442.4h3.8M429.7 478.7h3.8" stroke="#2a2a2a" stroke-width="1.25" fill="none"/>
<text transform="translate(424.7 264.1) scale(.9 1)" text-anchor="end" font-size="11.5" letter-spacing="0.3">4.5</text>
<text transform="translate(424.7 300.5) scale(.9 1)" text-anchor="end" font-size="11.5" letter-spacing="0.3">4.0</text>
<text transform="translate(424.7 336.8) scale(.9 1)" text-anchor="end" font-size="11.5" letter-spacing="0.3">3.5</text>
<text transform="translate(424.7 373.2) scale(.9 1)" text-anchor="end" font-size="11.5" letter-spacing="0.3">3.0</text>
<text transform="translate(424.7 409.5) scale(.9 1)" text-anchor="end" font-size="11.5" letter-spacing="0.3">2.5</text>
<text transform="translate(424.7 445.9) scale(.9 1)" text-anchor="end" font-size="11.5" letter-spacing="0.3">2.0</text>
<text transform="translate(424.7 482.2) scale(.9 1)" text-anchor="end" font-size="11.5" letter-spacing="0.3">1.5</text>
<text transform="translate(405.7 368.7) rotate(-90)" text-anchor="middle" font-size="16" textLength="143" lengthAdjust="spacing">CMJ GRF Peak(BW)</text>
<text x="370" y="369.8" font-size="16">(d)</text>
<text x="566.7" y="490.3" text-anchor="middle" font-size="17.6" textLength="50.4" lengthAdjust="spacing">Z-Axis</text>
<path d="M497.3 325.5C497.7 326.7 498.2 327.9 498.5 329.1C499 330.7 499.3 332.2 499.7 333.8C500.2 335.8 500.6 337.7 501.1 339.7C501.6 341.7 502.3 343.6 503 345.6C503.6 347.5 504.2 349.5 505 351.4C505.9 353.4 507.2 355.3 508.5 357.3C509.8 359.3 511.3 361.2 512.9 363.2C514.5 365.2 516.5 367.1 518.2 369.1C519.9 371.1 521.3 373 523.1 375C524.2 376.2 525.5 377.3 526.5 378.5C527.6 379.7 528.6 380.9 529.4 382.1C530.1 383.3 530.9 384.4 531.2 385.6C531.5 386.8 531.9 387.9 531.9 389.1C531.9 390.3 531.6 391.5 531.3 392.7C531 393.9 530.6 395 530.1 396.2C529.6 397.4 529 398.5 528.5 399.7C527.8 401.3 527.3 402.8 526.7 404.4C526.1 406 525.6 407.6 524.9 409.2C524.2 410.8 523.4 412.3 522.3 413.9C521.2 415.5 519.9 417 518.2 418.6C516.9 419.8 514.9 420.9 513.2 422.1C511.5 423.3 510.2 424.4 508.2 425.6C507.1 426.2 505.8 426.9 504.4 427.5L490.2 427.5C488.8 426.9 487.5 426.2 486.4 425.6C484.4 424.4 483.1 423.3 481.4 422.1C479.7 420.9 477.7 419.8 476.4 418.6C474.7 417 473.4 415.5 472.3 413.9C471.2 412.3 470.4 410.8 469.7 409.2C469 407.6 468.5 406 467.9 404.4C467.3 402.8 466.8 401.3 466.1 399.7C465.6 398.5 465 397.4 464.5 396.2C464 395 463.6 393.9 463.3 392.7C463 391.5 462.7 390.3 462.7 389.1C462.7 387.9 463.1 386.8 463.4 385.6C463.7 384.4 464.5 383.3 465.2 382.1C466 380.9 467 379.7 468.1 378.5C469.1 377.3 470.4 376.2 471.5 375C473.3 373 474.7 371.1 476.4 369.1C478.1 367.1 480.1 365.2 481.7 363.2C483.3 361.2 484.8 359.3 486.1 357.3C487.4 355.3 488.7 353.4 489.6 351.4C490.4 349.5 491 347.5 491.6 345.6C492.3 343.6 493 341.7 493.5 339.7C494 337.7 494.4 335.8 494.9 333.8C495.3 332.2 495.6 330.7 496.1 329.1C496.4 327.9 496.9 326.7 497.3 325.5Z" fill="#d67a7d" stroke="#c4252e" stroke-width="1.2" stroke-linejoin="round"/>
<circle cx="497.7" cy="339.4" r="1.7" fill="url(#gr)"/>
<circle cx="495.6" cy="346.3" r="1.7" fill="url(#gr)"/>
<circle cx="491.6" cy="353.2" r="1.7" fill="url(#gr)"/>
<circle cx="495.2" cy="357.5" r="1.7" fill="url(#gr)"/>
<circle cx="491.2" cy="365" r="1.7" fill="url(#gr)"/>
<circle cx="494" cy="365.4" r="1.7" fill="url(#gr)"/>
<circle cx="496.2" cy="367.4" r="1.7" fill="url(#gr)"/>
<circle cx="501.9" cy="366.8" r="1.7" fill="url(#gr)"/>
<circle cx="503" cy="370.3" r="1.7" fill="url(#gr)"/>
<circle cx="495.6" cy="371.7" r="1.7" fill="url(#gr)"/>
<circle cx="490.9" cy="375.6" r="1.7" fill="url(#gr)"/>
<circle cx="488.7" cy="377.6" r="1.7" fill="url(#gr)"/>
<circle cx="494.6" cy="377.2" r="1.7" fill="url(#gr)"/>
<circle cx="493.6" cy="382.7" r="1.7" fill="url(#gr)"/>
<circle cx="496.2" cy="382.1" r="1.7" fill="url(#gr)"/>
<circle cx="498.5" cy="381.5" r="1.7" fill="url(#gr)"/>
<circle cx="500.5" cy="383.5" r="1.7" fill="url(#gr)"/>
<circle cx="495.2" cy="385.1" r="1.7" fill="url(#gr)"/>
<circle cx="491" cy="387" r="1.7" fill="url(#gr)"/>
<circle cx="493.2" cy="387.4" r="1.7" fill="url(#gr)"/>
<circle cx="499.5" cy="388.6" r="1.7" fill="url(#gr)"/>
<circle cx="490.7" cy="390" r="1.7" fill="url(#gr)"/>
<circle cx="496.6" cy="390.6" r="1.7" fill="url(#gr)"/>
<circle cx="501.5" cy="391" r="1.7" fill="url(#gr)"/>
<circle cx="504.4" cy="391.4" r="1.7" fill="url(#gr)"/>
<circle cx="498.1" cy="393.3" r="1.7" fill="url(#gr)"/>
<circle cx="494.6" cy="394.5" r="1.7" fill="url(#gr)"/>
<circle cx="487.3" cy="395.9" r="1.7" fill="url(#gr)"/>
<circle cx="501.5" cy="394.3" r="1.7" fill="url(#gr)"/>
<circle cx="505.8" cy="396.9" r="1.7" fill="url(#gr)"/>
<circle cx="503.8" cy="399.2" r="1.7" fill="url(#gr)"/>
<circle cx="491" cy="402.4" r="1.7" fill="url(#gr)"/>
<circle cx="495.2" cy="401.2" r="1.7" fill="url(#gr)"/>
<circle cx="497.5" cy="401.8" r="1.7" fill="url(#gr)"/>
<circle cx="498.5" cy="404.4" r="1.7" fill="url(#gr)"/>
<circle cx="500.5" cy="406.7" r="1.7" fill="url(#gr)"/>
<circle cx="493.6" cy="410.1" r="1.7" fill="url(#gr)"/>
<circle cx="496.6" cy="410.7" r="1.7" fill="url(#gr)"/>
<circle cx="499.5" cy="411" r="1.7" fill="url(#gr)"/>
<circle cx="495.2" cy="413" r="1.7" fill="url(#gr)"/>
<circle cx="497.5" cy="413.6" r="1.7" fill="url(#gr)"/>
<circle cx="500.5" cy="412.6" r="1.7" fill="url(#gr)"/>
<circle cx="493.2" cy="415" r="1.7" fill="url(#gr)"/>
<circle cx="496.2" cy="416" r="1.7" fill="url(#gr)"/>
<circle cx="499.5" cy="415.6" r="1.7" fill="url(#gr)"/>
<circle cx="492" cy="417.5" r="1.7" fill="url(#gr)"/>
<circle cx="494.6" cy="418.9" r="1.7" fill="url(#gr)"/>
<circle cx="498.1" cy="418.1" r="1.7" fill="url(#gr)"/>
<circle cx="501.1" cy="416.6" r="1.7" fill="url(#gr)"/>
<path d="M633 325.9C633.3 327 633.6 328 633.8 329.1C634.1 330.7 634.1 332.2 634.4 333.8C634.6 335 635.3 336.1 635.9 337.3C636.5 338.5 637.5 339.6 638.2 340.8C639.1 342.4 639.9 344 640.7 345.6C641.7 347.5 642.7 349.5 643.8 351.4C644.9 353.4 646.1 355.3 647.1 357.3C648.1 359.3 649.2 361.2 650.1 363.2C651 365.2 651.6 367.1 652.4 369.1C653.2 371.1 654.1 373 655.1 375C655.9 376.6 656.6 378.1 657.6 379.7C658.6 381.3 660.1 382.8 661.3 384.4C662.5 386 663.9 387.5 664.6 389.1C665.3 390.7 665.9 392.2 666.3 393.8C666.7 395.4 667.2 397 667.2 398.6C667.2 400.2 667.2 401.7 667.2 403.3C667.2 404.9 666.8 406.4 666.3 408C665.8 409.6 664.8 411.1 663.6 412.7C662.4 414.3 660.4 415.8 658.3 417.4C656.2 419 653.2 420.5 650.7 422.1C648.8 423.3 646.7 424.4 645.1 425.6C644.2 426.2 643.4 426.9 642.7 427.5L623.3 427.5C622.6 426.9 621.8 426.2 620.9 425.6C619.3 424.4 617.2 423.3 615.3 422.1C612.8 420.5 609.8 419 607.7 417.4C605.6 415.8 603.6 414.3 602.4 412.7C601.2 411.1 600.2 409.6 599.7 408C599.2 406.4 598.8 404.9 598.8 403.3C598.8 401.7 598.8 400.2 598.8 398.6C598.8 397 599.3 395.4 599.7 393.8C600.1 392.2 600.7 390.7 601.4 389.1C602.1 387.5 603.5 386 604.7 384.4C605.9 382.8 607.4 381.3 608.4 379.7C609.4 378.1 610.1 376.6 610.9 375C611.9 373 612.8 371.1 613.6 369.1C614.4 367.1 615 365.2 615.9 363.2C616.8 361.2 617.9 359.3 618.9 357.3C619.9 355.3 621.1 353.4 622.2 351.4C623.3 349.5 624.3 347.5 625.3 345.6C626.1 344 626.9 342.4 627.8 340.8C628.5 339.6 629.5 338.5 630.1 337.3C630.7 336.1 631.4 335 631.6 333.8C631.9 332.2 631.9 330.7 632.2 329.1C632.4 328 632.7 327 633 325.9Z" fill="#6591bc" stroke="#1d5ca0" stroke-width="1.2" stroke-linejoin="round"/>
<circle cx="631.9" cy="347.3" r="1.7" fill="url(#gb)"/>
<circle cx="638.4" cy="347.7" r="1.7" fill="url(#gb)"/>
<circle cx="632.5" cy="352" r="1.7" fill="url(#gb)"/>
<circle cx="639.4" cy="357.5" r="1.7" fill="url(#gb)"/>
<circle cx="632.5" cy="363.8" r="1.7" fill="url(#gb)"/>
<circle cx="640.4" cy="363.4" r="1.7" fill="url(#gb)"/>
<circle cx="631.1" cy="365.8" r="1.7" fill="url(#gb)"/>
<circle cx="634.1" cy="365.8" r="1.7" fill="url(#gb)"/>
<circle cx="640.8" cy="366.8" r="1.7" fill="url(#gb)"/>
<circle cx="630.1" cy="372.3" r="1.7" fill="url(#gb)"/>
<circle cx="622.7" cy="377.8" r="1.7" fill="url(#gb)"/>
<circle cx="636.8" cy="378.2" r="1.7" fill="url(#gb)"/>
<circle cx="645.9" cy="378.2" r="1.7" fill="url(#gb)"/>
<circle cx="630.1" cy="379.6" r="1.7" fill="url(#gb)"/>
<circle cx="634.5" cy="381.1" r="1.7" fill="url(#gb)"/>
<circle cx="630.5" cy="382.7" r="1.7" fill="url(#gb)"/>
<circle cx="635.5" cy="384.7" r="1.7" fill="url(#gb)"/>
<circle cx="632.5" cy="387.4" r="1.7" fill="url(#gb)"/>
<circle cx="629.6" cy="389" r="1.7" fill="url(#gb)"/>
<circle cx="632.1" cy="390" r="1.7" fill="url(#gb)"/>
<circle cx="629.2" cy="392" r="1.7" fill="url(#gb)"/>
<circle cx="632.5" cy="393.9" r="1.7" fill="url(#gb)"/>
<circle cx="636" cy="393.9" r="1.7" fill="url(#gb)"/>
<circle cx="634.5" cy="396.5" r="1.7" fill="url(#gb)"/>
<circle cx="626.2" cy="396.9" r="1.7" fill="url(#gb)"/>
<circle cx="640.4" cy="397.9" r="1.7" fill="url(#gb)"/>
<circle cx="642" cy="397.9" r="1.7" fill="url(#gb)"/>
<circle cx="624.2" cy="399.8" r="1.7" fill="url(#gb)"/>
<circle cx="627.6" cy="400.4" r="1.7" fill="url(#gb)"/>
<circle cx="624.6" cy="401.8" r="1.7" fill="url(#gb)"/>
<circle cx="629.2" cy="401.2" r="1.7" fill="url(#gb)"/>
<circle cx="631.5" cy="404.8" r="1.7" fill="url(#gb)"/>
<circle cx="634.5" cy="404.8" r="1.7" fill="url(#gb)"/>
<circle cx="627" cy="406.3" r="1.7" fill="url(#gb)"/>
<circle cx="638.4" cy="409.1" r="1.7" fill="url(#gb)"/>
<circle cx="630.1" cy="410.7" r="1.7" fill="url(#gb)"/>
<circle cx="635.5" cy="411" r="1.7" fill="url(#gb)"/>
<circle cx="628.6" cy="413.6" r="1.7" fill="url(#gb)"/>
<circle cx="632.5" cy="414.2" r="1.7" fill="url(#gb)"/>
<circle cx="637.4" cy="413" r="1.7" fill="url(#gb)"/>
<circle cx="639" cy="414.6" r="1.7" fill="url(#gb)"/>
<circle cx="629.6" cy="416.6" r="1.7" fill="url(#gb)"/>
<circle cx="633.5" cy="416.2" r="1.7" fill="url(#gb)"/>
<circle cx="634.5" cy="417.5" r="1.7" fill="url(#gb)"/>
<circle cx="629.2" cy="420.5" r="1.7" fill="url(#gb)"/>
<circle cx="628.2" cy="422.5" r="1.7" fill="url(#gb)"/>
<rect x="690.4" y="28.4" width="87.4" height="24.2" fill="#fff" stroke="#c8c8c8" stroke-width="0.8"/>
<rect x="695" y="32" width="33.8" height="7.7" rx="1" fill="#bf2631"/>
<rect x="695" y="42.2" width="33.8" height="7.7" rx="1" fill="#1b5ba0"/>
<text x="732" y="38.9" font-size="13.2" textLength="42.2" lengthAdjust="spacingAndGlyphs">KunWei</text>
<text x="732" y="49.9" font-size="13.2" textLength="42.2" lengthAdjust="spacing">Bertec</text>
</svg>
</body>
</html>
